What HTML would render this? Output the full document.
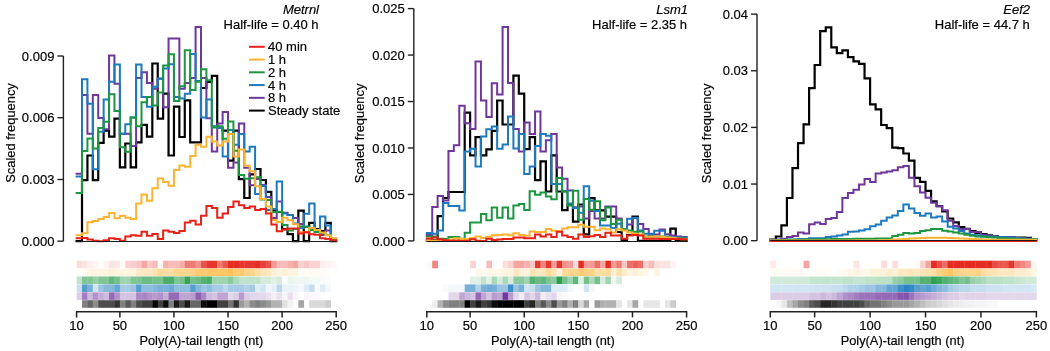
<!DOCTYPE html>
<html><head><meta charset="utf-8"><style>
html,body{margin:0;padding:0;background:#fff;width:1050px;height:351px;overflow:hidden}
svg{display:block;will-change:transform}
text{font-family:"Liberation Sans",sans-serif;fill:#000;stroke:#000;stroke-width:0.18px}
</style></head><body>
<svg width="1050" height="351" viewBox="0 0 1050 351">
<rect width="1050" height="351" fill="#fff"/>

<g><rect x="76.6" y="260.7" width="5.76" height="7.6" fill="#fbdedc"/><rect x="82.01" y="260.7" width="5.76" height="7.6" fill="#fce4e3"/><rect x="87.42" y="260.7" width="5.76" height="7.6" fill="#fdefef"/><rect x="92.82" y="260.7" width="5.76" height="7.6" fill="#fef6f6"/><rect x="98.23" y="260.7" width="5.76" height="7.6" fill="#fefbfa"/><rect x="103.64" y="260.7" width="5.76" height="7.6" fill="#fef4f3"/><rect x="109.05" y="260.7" width="5.76" height="7.6" fill="#fce4e3"/><rect x="114.46" y="260.7" width="5.76" height="7.6" fill="#fce9e8"/><rect x="119.87" y="260.7" width="5.76" height="7.6" fill="#fefbfa"/><rect x="125.28" y="260.7" width="5.76" height="7.6" fill="#fad2d0"/><rect x="130.68" y="260.7" width="5.76" height="7.6" fill="#f9cecc"/><rect x="136.09" y="260.7" width="5.76" height="7.6" fill="#f8c7c5"/><rect x="141.5" y="260.7" width="5.76" height="7.6" fill="#f4a6a2"/><rect x="146.91" y="260.7" width="5.76" height="7.6" fill="#f8c7c5"/><rect x="152.32" y="260.7" width="5.76" height="7.6" fill="#f7bcb9"/><rect x="157.73" y="260.7" width="5.76" height="7.6" fill="#fefbfa"/><rect x="163.13" y="260.7" width="5.76" height="7.6" fill="#f6b1ad"/><rect x="168.54" y="260.7" width="5.76" height="7.6" fill="#f7bcb9"/><rect x="173.95" y="260.7" width="5.76" height="7.6" fill="#f7bcb9"/><rect x="179.36" y="260.7" width="5.76" height="7.6" fill="#f6b1ad"/><rect x="184.77" y="260.7" width="5.76" height="7.6" fill="#ef7973"/><rect x="190.18" y="260.7" width="5.76" height="7.6" fill="#ef7973"/><rect x="195.58" y="260.7" width="5.76" height="7.6" fill="#f2908a"/><rect x="200.99" y="260.7" width="5.76" height="7.6" fill="#ea5149"/><rect x="206.4" y="260.7" width="5.76" height="7.6" fill="#e7362d"/><rect x="211.81" y="260.7" width="5.76" height="7.6" fill="#e7362d"/><rect x="217.22" y="260.7" width="5.76" height="7.6" fill="#ef7973"/><rect x="222.63" y="260.7" width="5.76" height="7.6" fill="#eb5850"/><rect x="228.03" y="260.7" width="5.76" height="7.6" fill="#e52b22"/><rect x="233.44" y="260.7" width="5.76" height="7.6" fill="#e52b22"/><rect x="238.85" y="260.7" width="5.76" height="7.6" fill="#e7362d"/><rect x="244.26" y="260.7" width="5.76" height="7.6" fill="#e7362d"/><rect x="249.67" y="260.7" width="5.76" height="7.6" fill="#e7362d"/><rect x="255.08" y="260.7" width="5.76" height="7.6" fill="#e52b22"/><rect x="260.48" y="260.7" width="5.76" height="7.6" fill="#e84139"/><rect x="265.89" y="260.7" width="5.76" height="7.6" fill="#ea5149"/><rect x="271.3" y="260.7" width="5.76" height="7.6" fill="#f39b96"/><rect x="276.71" y="260.7" width="5.76" height="7.6" fill="#f7bcb9"/><rect x="282.12" y="260.7" width="5.76" height="7.6" fill="#f7bcb9"/><rect x="287.53" y="260.7" width="5.76" height="7.6" fill="#f6b1ad"/><rect x="292.93" y="260.7" width="5.76" height="7.6" fill="#f4a6a2"/><rect x="298.34" y="260.7" width="5.76" height="7.6" fill="#fad2d0"/><rect x="303.75" y="260.7" width="5.76" height="7.6" fill="#f8c7c5"/><rect x="309.16" y="260.7" width="5.76" height="7.6" fill="#fad2d0"/><rect x="314.57" y="260.7" width="5.76" height="7.6" fill="#fad2d0"/><rect x="319.98" y="260.7" width="5.76" height="7.6" fill="#fdefef"/><rect x="325.38" y="260.7" width="5.76" height="7.6" fill="#fef4f3"/><rect x="330.79" y="260.7" width="5.76" height="7.6" fill="#fef8f8"/><rect x="76.6" y="268.6" width="5.76" height="7.6" fill="#fffdf9"/><rect x="82.01" y="268.6" width="5.76" height="7.6" fill="#fffbf5"/><rect x="87.42" y="268.6" width="5.76" height="7.6" fill="#fff4e0"/><rect x="92.82" y="268.6" width="5.76" height="7.6" fill="#fff4e0"/><rect x="98.23" y="268.6" width="5.76" height="7.6" fill="#fff4e0"/><rect x="103.64" y="268.6" width="5.76" height="7.6" fill="#fff4e0"/><rect x="109.05" y="268.6" width="5.76" height="7.6" fill="#fef0d6"/><rect x="114.46" y="268.6" width="5.76" height="7.6" fill="#fff4e0"/><rect x="119.87" y="268.6" width="5.76" height="7.6" fill="#fff4e0"/><rect x="125.28" y="268.6" width="5.76" height="7.6" fill="#fff4e0"/><rect x="130.68" y="268.6" width="5.76" height="7.6" fill="#fff4e0"/><rect x="136.09" y="268.6" width="5.76" height="7.6" fill="#fee8c2"/><rect x="141.5" y="268.6" width="5.76" height="7.6" fill="#fee8c2"/><rect x="146.91" y="268.6" width="5.76" height="7.6" fill="#fee8c2"/><rect x="152.32" y="268.6" width="5.76" height="7.6" fill="#fee1ad"/><rect x="157.73" y="268.6" width="5.76" height="7.6" fill="#feda98"/><rect x="163.13" y="268.6" width="5.76" height="7.6" fill="#fedda3"/><rect x="168.54" y="268.6" width="5.76" height="7.6" fill="#fedda3"/><rect x="173.95" y="268.6" width="5.76" height="7.6" fill="#fdd68e"/><rect x="179.36" y="268.6" width="5.76" height="7.6" fill="#fdd68e"/><rect x="184.77" y="268.6" width="5.76" height="7.6" fill="#fdd68e"/><rect x="190.18" y="268.6" width="5.76" height="7.6" fill="#fdd284"/><rect x="195.58" y="268.6" width="5.76" height="7.6" fill="#fdca70"/><rect x="200.99" y="268.6" width="5.76" height="7.6" fill="#fdca70"/><rect x="206.4" y="268.6" width="5.76" height="7.6" fill="#fdc765"/><rect x="211.81" y="268.6" width="5.76" height="7.6" fill="#fdc765"/><rect x="217.22" y="268.6" width="5.76" height="7.6" fill="#fdc765"/><rect x="222.63" y="268.6" width="5.76" height="7.6" fill="#fdc765"/><rect x="228.03" y="268.6" width="5.76" height="7.6" fill="#fdc35b"/><rect x="233.44" y="268.6" width="5.76" height="7.6" fill="#fdca70"/><rect x="238.85" y="268.6" width="5.76" height="7.6" fill="#fdca70"/><rect x="244.26" y="268.6" width="5.76" height="7.6" fill="#fdd284"/><rect x="249.67" y="268.6" width="5.76" height="7.6" fill="#fdd68e"/><rect x="255.08" y="268.6" width="5.76" height="7.6" fill="#fedda3"/><rect x="260.48" y="268.6" width="5.76" height="7.6" fill="#fee5b7"/><rect x="265.89" y="268.6" width="5.76" height="7.6" fill="#fee8c2"/><rect x="271.3" y="268.6" width="5.76" height="7.6" fill="#fef0d6"/><rect x="276.71" y="268.6" width="5.76" height="7.6" fill="#fff4e0"/><rect x="282.12" y="268.6" width="5.76" height="7.6" fill="#fef0d6"/><rect x="287.53" y="268.6" width="5.76" height="7.6" fill="#fff4e0"/><rect x="292.93" y="268.6" width="5.76" height="7.6" fill="#fff4e0"/><rect x="298.34" y="268.6" width="5.76" height="7.6" fill="#fffbf5"/><rect x="303.75" y="268.6" width="5.76" height="7.6" fill="#fffbf5"/><rect x="309.16" y="268.6" width="5.76" height="7.6" fill="#fff9ef"/><rect x="314.57" y="268.6" width="5.76" height="7.6" fill="#fffaf3"/><rect x="319.98" y="268.6" width="5.76" height="7.6" fill="#fffcf7"/><rect x="325.38" y="268.6" width="5.76" height="7.6" fill="#fffdf9"/><rect x="330.79" y="268.6" width="5.76" height="7.6" fill="#fffefd"/><rect x="76.6" y="276.5" width="5.76" height="7.6" fill="#c0e2cb"/><rect x="82.01" y="276.5" width="5.76" height="7.6" fill="#80c596"/><rect x="87.42" y="276.5" width="5.76" height="7.6" fill="#80c596"/><rect x="92.82" y="276.5" width="5.76" height="7.6" fill="#95cfa8"/><rect x="98.23" y="276.5" width="5.76" height="7.6" fill="#80c596"/><rect x="103.64" y="276.5" width="5.76" height="7.6" fill="#80c596"/><rect x="109.05" y="276.5" width="5.76" height="7.6" fill="#60b77c"/><rect x="114.46" y="276.5" width="5.76" height="7.6" fill="#75c08d"/><rect x="119.87" y="276.5" width="5.76" height="7.6" fill="#a0d4b0"/><rect x="125.28" y="276.5" width="5.76" height="7.6" fill="#a0d4b0"/><rect x="130.68" y="276.5" width="5.76" height="7.6" fill="#80c596"/><rect x="136.09" y="276.5" width="5.76" height="7.6" fill="#80c596"/><rect x="141.5" y="276.5" width="5.76" height="7.6" fill="#6bbb85"/><rect x="146.91" y="276.5" width="5.76" height="7.6" fill="#6bbb85"/><rect x="152.32" y="276.5" width="5.76" height="7.6" fill="#75c08d"/><rect x="157.73" y="276.5" width="5.76" height="7.6" fill="#75c08d"/><rect x="163.13" y="276.5" width="5.76" height="7.6" fill="#4bad6a"/><rect x="168.54" y="276.5" width="5.76" height="7.6" fill="#4bad6a"/><rect x="173.95" y="276.5" width="5.76" height="7.6" fill="#80c596"/><rect x="179.36" y="276.5" width="5.76" height="7.6" fill="#75c08d"/><rect x="184.77" y="276.5" width="5.76" height="7.6" fill="#36a359"/><rect x="190.18" y="276.5" width="5.76" height="7.6" fill="#75c08d"/><rect x="195.58" y="276.5" width="5.76" height="7.6" fill="#6bbb85"/><rect x="200.99" y="276.5" width="5.76" height="7.6" fill="#56b273"/><rect x="206.4" y="276.5" width="5.76" height="7.6" fill="#4bad6a"/><rect x="211.81" y="276.5" width="5.76" height="7.6" fill="#a0d4b0"/><rect x="217.22" y="276.5" width="5.76" height="7.6" fill="#a0d4b0"/><rect x="222.63" y="276.5" width="5.76" height="7.6" fill="#a0d4b0"/><rect x="228.03" y="276.5" width="5.76" height="7.6" fill="#8bca9f"/><rect x="233.44" y="276.5" width="5.76" height="7.6" fill="#aad8b9"/><rect x="238.85" y="276.5" width="5.76" height="7.6" fill="#c0e2cb"/><rect x="244.26" y="276.5" width="5.76" height="7.6" fill="#c0e2cb"/><rect x="249.67" y="276.5" width="5.76" height="7.6" fill="#c0e2cb"/><rect x="255.08" y="276.5" width="5.76" height="7.6" fill="#c0e2cb"/><rect x="260.48" y="276.5" width="5.76" height="7.6" fill="#d5ecdc"/><rect x="265.89" y="276.5" width="5.76" height="7.6" fill="#d5ecdc"/><rect x="271.3" y="276.5" width="5.76" height="7.6" fill="#dff1e5"/><rect x="276.71" y="276.5" width="5.76" height="7.6" fill="#d5ecdc"/><rect x="282.12" y="276.5" width="5.76" height="7.6" fill="#fbfdfc"/><rect x="287.53" y="276.5" width="5.76" height="7.6" fill="#eaf5ee"/><rect x="292.93" y="276.5" width="5.76" height="7.6" fill="#eef7f1"/><rect x="298.34" y="276.5" width="5.76" height="7.6" fill="#eef7f1"/><rect x="303.75" y="276.5" width="5.76" height="7.6" fill="#eef7f1"/><rect x="309.16" y="276.5" width="5.76" height="7.6" fill="#f4faf6"/><rect x="314.57" y="276.5" width="5.76" height="7.6" fill="#f4faf6"/><rect x="319.98" y="276.5" width="5.76" height="7.6" fill="#f9fcfa"/><rect x="325.38" y="276.5" width="5.76" height="7.6" fill="#fbfdfc"/><rect x="76.6" y="284.4" width="5.76" height="7.6" fill="#c7deef"/><rect x="82.01" y="284.4" width="5.76" height="7.6" fill="#569ece"/><rect x="87.42" y="284.4" width="5.76" height="7.6" fill="#78b1d8"/><rect x="92.82" y="284.4" width="5.76" height="7.6" fill="#d2e5f2"/><rect x="98.23" y="284.4" width="5.76" height="7.6" fill="#9ac4e2"/><rect x="103.64" y="284.4" width="5.76" height="7.6" fill="#83b8db"/><rect x="109.05" y="284.4" width="5.76" height="7.6" fill="#83b8db"/><rect x="114.46" y="284.4" width="5.76" height="7.6" fill="#62a4d2"/><rect x="119.87" y="284.4" width="5.76" height="7.6" fill="#a5cbe5"/><rect x="125.28" y="284.4" width="5.76" height="7.6" fill="#a5cbe5"/><rect x="130.68" y="284.4" width="5.76" height="7.6" fill="#9ac4e2"/><rect x="136.09" y="284.4" width="5.76" height="7.6" fill="#569ece"/><rect x="141.5" y="284.4" width="5.76" height="7.6" fill="#8ebede"/><rect x="146.91" y="284.4" width="5.76" height="7.6" fill="#8ebede"/><rect x="152.32" y="284.4" width="5.76" height="7.6" fill="#83b8db"/><rect x="157.73" y="284.4" width="5.76" height="7.6" fill="#78b1d8"/><rect x="163.13" y="284.4" width="5.76" height="7.6" fill="#78b1d8"/><rect x="168.54" y="284.4" width="5.76" height="7.6" fill="#6daad5"/><rect x="173.95" y="284.4" width="5.76" height="7.6" fill="#8ebede"/><rect x="179.36" y="284.4" width="5.76" height="7.6" fill="#8ebede"/><rect x="184.77" y="284.4" width="5.76" height="7.6" fill="#8ebede"/><rect x="190.18" y="284.4" width="5.76" height="7.6" fill="#569ece"/><rect x="195.58" y="284.4" width="5.76" height="7.6" fill="#83b8db"/><rect x="200.99" y="284.4" width="5.76" height="7.6" fill="#9ac4e2"/><rect x="206.4" y="284.4" width="5.76" height="7.6" fill="#8ebede"/><rect x="211.81" y="284.4" width="5.76" height="7.6" fill="#a5cbe5"/><rect x="217.22" y="284.4" width="5.76" height="7.6" fill="#a5cbe5"/><rect x="222.63" y="284.4" width="5.76" height="7.6" fill="#bcd8ec"/><rect x="228.03" y="284.4" width="5.76" height="7.6" fill="#a5cbe5"/><rect x="233.44" y="284.4" width="5.76" height="7.6" fill="#a5cbe5"/><rect x="238.85" y="284.4" width="5.76" height="7.6" fill="#a5cbe5"/><rect x="244.26" y="284.4" width="5.76" height="7.6" fill="#b0d2e8"/><rect x="249.67" y="284.4" width="5.76" height="7.6" fill="#a5cbe5"/><rect x="255.08" y="284.4" width="5.76" height="7.6" fill="#ddecf5"/><rect x="260.48" y="284.4" width="5.76" height="7.6" fill="#d2e5f2"/><rect x="265.89" y="284.4" width="5.76" height="7.6" fill="#edf5fa"/><rect x="271.3" y="284.4" width="5.76" height="7.6" fill="#e4eff7"/><rect x="276.71" y="284.4" width="5.76" height="7.6" fill="#bcd8ec"/><rect x="282.12" y="284.4" width="5.76" height="7.6" fill="#e8f2f8"/><rect x="287.53" y="284.4" width="5.76" height="7.6" fill="#e8f2f8"/><rect x="292.93" y="284.4" width="5.76" height="7.6" fill="#edf5fa"/><rect x="298.34" y="284.4" width="5.76" height="7.6" fill="#f4f8fc"/><rect x="303.75" y="284.4" width="5.76" height="7.6" fill="#ddecf5"/><rect x="309.16" y="284.4" width="5.76" height="7.6" fill="#c7deef"/><rect x="314.57" y="284.4" width="5.76" height="7.6" fill="#f8fbfd"/><rect x="319.98" y="284.4" width="5.76" height="7.6" fill="#ddecf5"/><rect x="325.38" y="284.4" width="5.76" height="7.6" fill="#f4f8fc"/><rect x="76.6" y="292.3" width="5.76" height="7.6" fill="#dbcde6"/><rect x="82.01" y="292.3" width="5.76" height="7.6" fill="#a27dbf"/><rect x="87.42" y="292.3" width="5.76" height="7.6" fill="#cdb9dc"/><rect x="92.82" y="292.3" width="5.76" height="7.6" fill="#b091c9"/><rect x="98.23" y="292.3" width="5.76" height="7.6" fill="#c6afd7"/><rect x="103.64" y="292.3" width="5.76" height="7.6" fill="#cdb9dc"/><rect x="109.05" y="292.3" width="5.76" height="7.6" fill="#9469b5"/><rect x="114.46" y="292.3" width="5.76" height="7.6" fill="#b091c9"/><rect x="119.87" y="292.3" width="5.76" height="7.6" fill="#d4c3e1"/><rect x="125.28" y="292.3" width="5.76" height="7.6" fill="#d4c3e1"/><rect x="130.68" y="292.3" width="5.76" height="7.6" fill="#d4c3e1"/><rect x="136.09" y="292.3" width="5.76" height="7.6" fill="#a987c4"/><rect x="141.5" y="292.3" width="5.76" height="7.6" fill="#a987c4"/><rect x="146.91" y="292.3" width="5.76" height="7.6" fill="#b091c9"/><rect x="152.32" y="292.3" width="5.76" height="7.6" fill="#b89bce"/><rect x="157.73" y="292.3" width="5.76" height="7.6" fill="#b091c9"/><rect x="163.13" y="292.3" width="5.76" height="7.6" fill="#c6afd7"/><rect x="168.54" y="292.3" width="5.76" height="7.6" fill="#9469b5"/><rect x="173.95" y="292.3" width="5.76" height="7.6" fill="#9469b5"/><rect x="179.36" y="292.3" width="5.76" height="7.6" fill="#bfa5d2"/><rect x="184.77" y="292.3" width="5.76" height="7.6" fill="#bfa5d2"/><rect x="190.18" y="292.3" width="5.76" height="7.6" fill="#b89bce"/><rect x="195.58" y="292.3" width="5.76" height="7.6" fill="#8d5fb0"/><rect x="200.99" y="292.3" width="5.76" height="7.6" fill="#a987c4"/><rect x="206.4" y="292.3" width="5.76" height="7.6" fill="#cdb9dc"/><rect x="211.81" y="292.3" width="5.76" height="7.6" fill="#d4c3e1"/><rect x="217.22" y="292.3" width="5.76" height="7.6" fill="#bfa5d2"/><rect x="222.63" y="292.3" width="5.76" height="7.6" fill="#bfa5d2"/><rect x="228.03" y="292.3" width="5.76" height="7.6" fill="#e2d7eb"/><rect x="233.44" y="292.3" width="5.76" height="7.6" fill="#dbcde6"/><rect x="238.85" y="292.3" width="5.76" height="7.6" fill="#b89bce"/><rect x="244.26" y="292.3" width="5.76" height="7.6" fill="#dbcde6"/><rect x="249.67" y="292.3" width="5.76" height="7.6" fill="#e2d7eb"/><rect x="255.08" y="292.3" width="5.76" height="7.6" fill="#e2d7eb"/><rect x="260.48" y="292.3" width="5.76" height="7.6" fill="#e2d7eb"/><rect x="265.89" y="292.3" width="5.76" height="7.6" fill="#eae1f0"/><rect x="271.3" y="292.3" width="5.76" height="7.6" fill="#f4eff7"/><rect x="276.71" y="292.3" width="5.76" height="7.6" fill="#eae1f0"/><rect x="282.12" y="292.3" width="5.76" height="7.6" fill="#f8f5fa"/><rect x="287.53" y="292.3" width="5.76" height="7.6" fill="#eae1f0"/><rect x="292.93" y="292.3" width="5.76" height="7.6" fill="#f8f5fa"/><rect x="303.75" y="292.3" width="5.76" height="7.6" fill="#f8f5fa"/><rect x="309.16" y="292.3" width="5.76" height="7.6" fill="#fbf9fc"/><rect x="314.57" y="292.3" width="5.76" height="7.6" fill="#fbf9fc"/><rect x="82.01" y="300.2" width="5.76" height="7.6" fill="#808080"/><rect x="87.42" y="300.2" width="5.76" height="7.6" fill="#666666"/><rect x="92.82" y="300.2" width="5.76" height="7.6" fill="#8c8c8c"/><rect x="98.23" y="300.2" width="5.76" height="7.6" fill="#4c4c4c"/><rect x="103.64" y="300.2" width="5.76" height="7.6" fill="#4c4c4c"/><rect x="109.05" y="300.2" width="5.76" height="7.6" fill="#4c4c4c"/><rect x="114.46" y="300.2" width="5.76" height="7.6" fill="#333333"/><rect x="119.87" y="300.2" width="5.76" height="7.6" fill="#808080"/><rect x="125.28" y="300.2" width="5.76" height="7.6" fill="#595959"/><rect x="130.68" y="300.2" width="5.76" height="7.6" fill="#808080"/><rect x="136.09" y="300.2" width="5.76" height="7.6" fill="#4c4c4c"/><rect x="141.5" y="300.2" width="5.76" height="7.6" fill="#404040"/><rect x="146.91" y="300.2" width="5.76" height="7.6" fill="#404040"/><rect x="152.32" y="300.2" width="5.76" height="7.6" fill="#000000"/><rect x="157.73" y="300.2" width="5.76" height="7.6" fill="#404040"/><rect x="163.13" y="300.2" width="5.76" height="7.6" fill="#0d0d0d"/><rect x="168.54" y="300.2" width="5.76" height="7.6" fill="#808080"/><rect x="173.95" y="300.2" width="5.76" height="7.6" fill="#1a1a1a"/><rect x="179.36" y="300.2" width="5.76" height="7.6" fill="#4c4c4c"/><rect x="184.77" y="300.2" width="5.76" height="7.6" fill="#1a1a1a"/><rect x="190.18" y="300.2" width="5.76" height="7.6" fill="#666666"/><rect x="195.58" y="300.2" width="5.76" height="7.6" fill="#666666"/><rect x="200.99" y="300.2" width="5.76" height="7.6" fill="#0d0d0d"/><rect x="206.4" y="300.2" width="5.76" height="7.6" fill="#000000"/><rect x="211.81" y="300.2" width="5.76" height="7.6" fill="#000000"/><rect x="217.22" y="300.2" width="5.76" height="7.6" fill="#404040"/><rect x="222.63" y="300.2" width="5.76" height="7.6" fill="#404040"/><rect x="228.03" y="300.2" width="5.76" height="7.6" fill="#737373"/><rect x="233.44" y="300.2" width="5.76" height="7.6" fill="#333333"/><rect x="238.85" y="300.2" width="5.76" height="7.6" fill="#999999"/><rect x="244.26" y="300.2" width="5.76" height="7.6" fill="#b2b2b2"/><rect x="249.67" y="300.2" width="5.76" height="7.6" fill="#8c8c8c"/><rect x="255.08" y="300.2" width="5.76" height="7.6" fill="#808080"/><rect x="260.48" y="300.2" width="5.76" height="7.6" fill="#8c8c8c"/><rect x="265.89" y="300.2" width="5.76" height="7.6" fill="#999999"/><rect x="271.3" y="300.2" width="5.76" height="7.6" fill="#b2b2b2"/><rect x="276.71" y="300.2" width="5.76" height="7.6" fill="#b2b2b2"/><rect x="282.12" y="300.2" width="5.76" height="7.6" fill="#e0e0e0"/><rect x="287.53" y="300.2" width="5.76" height="7.6" fill="#f2f2f2"/><rect x="298.34" y="300.2" width="5.76" height="7.6" fill="#a6a6a6"/><rect x="309.16" y="300.2" width="5.76" height="7.6" fill="#d9d9d9"/><rect x="314.57" y="300.2" width="5.76" height="7.6" fill="#d9d9d9"/><rect x="319.98" y="300.2" width="5.76" height="7.6" fill="#d9d9d9"/><rect x="325.38" y="300.2" width="5.76" height="7.6" fill="#cccccc"/></g>
<polyline fill="none" stroke="#000000" stroke-width="2.2" stroke-linejoin="miter" stroke-linecap="square" points="76.6,241.2 82.01,241.2 82.01,180.2 87.42,180.2 87.42,155.5 92.82,155.5 92.82,180.2 98.23,180.2 98.23,142.9 103.64,142.9 103.64,130.6 109.05,130.6 109.05,136.7 114.46,136.7 114.46,118.6 119.87,118.6 119.87,167.4 125.28,167.4 125.28,143.5 130.68,143.5 130.68,167.4 136.09,167.4 136.09,142.3 141.5,142.3 141.5,124.9 146.91,124.9 146.91,136.7 152.32,136.7 152.32,63.5 157.73,63.5 157.73,118.6 163.13,118.6 163.13,93.7 168.54,93.7 168.54,155.5 173.95,155.5 173.95,106.7 179.36,106.7 179.36,137 184.77,137 184.77,100.4 190.18,100.4 190.18,142.3 195.58,142.3 195.58,142.3 200.99,142.3 200.99,88 206.4,88 206.4,82 211.81,82 211.81,75.9 217.22,75.9 217.22,128 222.63,128 222.63,130.7 228.03,130.7 228.03,160.6 233.44,160.6 233.44,130.7 238.85,130.7 238.85,179.1 244.26,179.1 244.26,198 249.67,198 249.67,174.4 255.08,174.4 255.08,169 260.48,169 260.48,180 265.89,180 265.89,191.8 271.3,191.8 271.3,210.7 276.71,210.7 276.71,212 282.12,212 282.12,229.2 287.53,229.2 287.53,234.2 292.93,234.2 292.93,241.2 298.34,241.2 298.34,210.7 303.75,210.7 303.75,241.2 309.16,241.2 309.16,222.8 314.57,222.8 314.57,229.2 319.98,229.2 319.98,231 325.38,231 325.38,222.8 330.79,222.8 330.79,241.2 336.2,241.2"/>
<polyline fill="none" stroke="#70379b" stroke-width="2.0" stroke-linejoin="miter" stroke-linecap="square" points="76.6,173.7 82.01,173.7 82.01,95 87.42,95 87.42,133.7 92.82,133.7 92.82,95 98.23,95 98.23,118 103.64,118 103.64,129.3 109.05,129.3 109.05,55.6 114.46,55.6 114.46,83.7 119.87,83.7 119.87,133.7 125.28,133.7 125.28,133.7 130.68,133.7 130.68,146 136.09,146 136.09,78 141.5,78 141.5,72.3 146.91,72.3 146.91,83 152.32,83 152.32,88.7 157.73,88.7 157.73,78.8 163.13,78.8 163.13,107.3 168.54,107.3 168.54,38.6 173.95,38.6 173.95,38.6 179.36,38.6 179.36,88.7 184.77,88.7 184.77,83 190.18,83 190.18,78 195.58,78 195.58,26.9 200.99,26.9 200.99,78 206.4,78 206.4,118.2 211.81,118.2 211.81,151.5 217.22,151.5 217.22,123.4 222.63,123.4 222.63,112.1 228.03,112.1 228.03,167.7 233.44,167.7 233.44,162.4 238.85,162.4 238.85,123.4 244.26,123.4 244.26,167.7 249.67,167.7 249.67,185.3 255.08,185.3 255.08,179.1 260.48,179.1 260.48,185 265.89,185 265.89,197 271.3,197 271.3,218 276.71,218 276.71,201.4 282.12,201.4 282.12,212.8 287.53,212.8 287.53,215 292.93,215 292.93,218 298.34,218 298.34,224 303.75,224 303.75,227 309.16,227 309.16,228 314.57,228 314.57,230 319.98,230 319.98,235 325.38,235 325.38,230.6 330.79,230.6 330.79,240.6 336.2,240.6"/>
<polyline fill="none" stroke="#1e7abe" stroke-width="2.0" stroke-linejoin="miter" stroke-linecap="square" points="76.6,176.5 82.01,176.5 82.01,79.3 87.42,79.3 87.42,103.8 92.82,103.8 92.82,169.3 98.23,169.3 98.23,131.8 103.64,131.8 103.64,99.4 109.05,99.4 109.05,81.8 114.46,81.8 114.46,64.5 119.87,64.5 119.87,133.7 125.28,133.7 125.28,124.3 130.68,124.3 130.68,117.4 136.09,117.4 136.09,64.5 141.5,64.5 141.5,96.9 146.91,96.9 146.91,106.7 152.32,106.7 152.32,86.8 157.73,86.8 157.73,78.6 163.13,78.6 163.13,68.6 168.54,68.6 168.54,64.2 173.95,64.2 173.95,96.9 179.36,96.9 179.36,98.5 184.77,98.5 184.77,93.7 190.18,93.7 190.18,53.9 195.58,53.9 195.58,81 200.99,81 200.99,117.4 206.4,117.4 206.4,99.4 211.81,99.4 211.81,126.2 217.22,126.2 217.22,128 222.63,128 222.63,156.6 228.03,156.6 228.03,130 233.44,130 233.44,144.8 238.85,144.8 238.85,134.1 244.26,134.1 244.26,151.5 249.67,151.5 249.67,146.8 255.08,146.8 255.08,194.1 260.48,194.1 260.48,186 265.89,186 265.89,210 271.3,210 271.3,209 276.71,209 276.71,181.5 282.12,181.5 282.12,213.6 287.53,213.6 287.53,215 292.93,215 292.93,223.5 298.34,223.5 298.34,228 303.75,228 303.75,213.7 309.16,213.7 309.16,203.6 314.57,203.6 314.57,230.6 319.98,230.6 319.98,216.4 325.38,216.4 325.38,225.5 330.79,225.5 330.79,240.5 336.2,240.5"/>
<polyline fill="none" stroke="#1d9641" stroke-width="2.0" stroke-linejoin="miter" stroke-linecap="square" points="76.6,193.1 82.01,193.1 82.01,151.1 87.42,151.1 87.42,138.6 92.82,138.6 92.82,148.6 98.23,148.6 98.23,128 103.64,128 103.64,121.8 109.05,121.8 109.05,94.3 114.46,94.3 114.46,111.1 119.87,111.1 119.87,147.3 125.28,147.3 125.28,151.7 130.68,151.7 130.68,117.4 136.09,117.4 136.09,126.2 141.5,126.2 141.5,102.3 146.91,102.3 146.91,97.1 152.32,97.1 152.32,105.4 157.73,105.4 157.73,92.5 163.13,92.5 163.13,65.4 168.54,65.4 168.54,54.3 173.95,54.3 173.95,101 179.36,101 179.36,86.2 184.77,86.2 184.77,50.2 190.18,50.2 190.18,90 195.58,90 195.58,81.8 200.99,81.8 200.99,69.2 206.4,69.2 206.4,80.2 211.81,80.2 211.81,127.4 217.22,127.4 217.22,126.2 222.63,126.2 222.63,138.7 228.03,138.7 228.03,121.4 233.44,121.4 233.44,150.8 238.85,150.8 238.85,175.1 244.26,175.1 244.26,178.8 249.67,178.8 249.67,178.3 255.08,178.3 255.08,177.3 260.48,177.3 260.48,199.5 265.89,199.5 265.89,200 271.3,200 271.3,212 276.71,212 276.71,211.7 282.12,211.7 282.12,225 287.53,225 287.53,230.6 292.93,230.6 292.93,229 298.34,229 298.34,226.4 303.75,226.4 303.75,226.4 309.16,226.4 309.16,230 314.57,230 314.57,232 319.98,232 319.98,233.5 325.38,233.5 325.38,234.9 330.79,234.9 330.79,238.5 336.2,238.5"/>
<polyline fill="none" stroke="#fbb432" stroke-width="2.0" stroke-linejoin="miter" stroke-linecap="square" points="76.6,235.2 82.01,235.2 82.01,233.3 87.42,233.3 87.42,222.3 92.82,222.3 92.82,221.1 98.23,221.1 98.23,219.1 103.64,219.1 103.64,216.9 109.05,216.9 109.05,213.1 114.46,213.1 114.46,218.2 119.87,218.2 119.87,215.8 125.28,215.8 125.28,217.8 130.68,217.8 130.68,219.1 136.09,219.1 136.09,203.4 141.5,203.4 141.5,194.6 146.91,194.6 146.91,200.7 152.32,200.7 152.32,188.3 157.73,188.3 157.73,178.5 163.13,178.5 163.13,182.1 168.54,182.1 168.54,185.8 173.95,185.8 173.95,170 179.36,170 179.36,165.5 184.77,165.5 184.77,166.8 190.18,166.8 190.18,156.1 195.58,156.1 195.58,144.8 200.99,144.8 200.99,146.7 206.4,146.7 206.4,136.7 211.81,136.7 211.81,141.4 217.22,141.4 217.22,145.4 222.63,145.4 222.63,141.4 228.03,141.4 228.03,134.1 233.44,134.1 233.44,156.6 238.85,156.6 238.85,149.5 244.26,149.5 244.26,165.7 249.67,165.7 249.67,171.3 255.08,171.3 255.08,186.2 260.48,186.2 260.48,199 265.89,199 265.89,206.5 271.3,206.5 271.3,220 276.71,220 276.71,222 282.12,222 282.12,217.8 287.53,217.8 287.53,220.2 292.93,220.2 292.93,224.2 298.34,224.2 298.34,232 303.75,232 303.75,232.2 309.16,232.2 309.16,228 314.57,228 314.57,230 319.98,230 319.98,232.6 325.38,232.6 325.38,235.3 330.79,235.3 330.79,238.2 336.2,238.2"/>
<polyline fill="none" stroke="#e82119" stroke-width="2.0" stroke-linejoin="miter" stroke-linecap="square" points="76.6,238.3 82.01,238.3 82.01,237.9 87.42,237.9 87.42,239.6 92.82,239.6 92.82,240.8 98.23,240.8 98.23,241.2 103.64,241.2 103.64,240.2 109.05,240.2 109.05,238.3 114.46,238.3 114.46,238.9 119.87,238.9 119.87,240.8 125.28,240.8 125.28,236.4 130.68,236.4 130.68,235.2 136.09,235.2 136.09,235.8 141.5,235.8 141.5,231.7 146.91,231.7 146.91,235.8 152.32,235.8 152.32,233.9 157.73,233.9 157.73,238.9 163.13,238.9 163.13,230.4 168.54,230.4 168.54,231.7 173.95,231.7 173.95,232.9 179.36,232.9 179.36,231.1 184.77,231.1 184.77,222.6 190.18,222.6 190.18,220.7 195.58,220.7 195.58,224.5 200.99,224.5 200.99,215.7 206.4,215.7 206.4,205.9 211.81,205.9 211.81,208 217.22,208 217.22,217.8 222.63,217.8 222.63,213.4 228.03,213.4 228.03,207 233.44,207 233.44,201.5 238.85,201.5 238.85,205.3 244.26,205.3 244.26,208.1 249.67,208.1 249.67,206.6 255.08,206.6 255.08,210 260.48,210 260.48,209 265.89,209 265.89,213.5 271.3,213.5 271.3,224.5 276.71,224.5 276.71,231.3 282.12,231.3 282.12,229.6 287.53,229.6 287.53,228.4 292.93,228.4 292.93,228.5 298.34,228.5 298.34,233.4 303.75,233.4 303.75,232.3 309.16,232.3 309.16,234.3 314.57,234.3 314.57,234.8 319.98,234.8 319.98,238.3 325.38,238.3 325.38,239 330.79,239 330.79,240.2 336.2,240.2"/>
<line x1="76.6" y1="241.5" x2="336.2" y2="241.5" stroke="#1a1a1a" stroke-width="1"/>
<path d="M63.4 56 V241.2" stroke="#222" stroke-width="1.4" fill="none"/>
<path d="M57.4 56 H63.4" stroke="#222" stroke-width="1.4"/>
<text x="54.4" y="60.6" font-size="13" text-anchor="end">0.009</text>
<path d="M57.4 117.7 H63.4" stroke="#222" stroke-width="1.4"/>
<text x="54.4" y="122.3" font-size="13" text-anchor="end">0.006</text>
<path d="M57.4 179.5 H63.4" stroke="#222" stroke-width="1.4"/>
<text x="54.4" y="184.1" font-size="13" text-anchor="end">0.003</text>
<path d="M57.4 241.2 H63.4" stroke="#222" stroke-width="1.4"/>
<text x="54.4" y="245.8" font-size="13" text-anchor="end">0.000</text>
<text transform="translate(14.9 133) rotate(-90)" font-size="12.9" text-anchor="middle">Scaled frequency</text>
<path d="M76.6 317.4 V311.8 H336.2 V317.4" stroke="#222" stroke-width="1.5" fill="none"/>
<path d="M119.87 311.8 V317.4" stroke="#222" stroke-width="1.5"/>
<path d="M173.95 311.8 V317.4" stroke="#222" stroke-width="1.5"/>
<path d="M228.03 311.8 V317.4" stroke="#222" stroke-width="1.5"/>
<path d="M282.12 311.8 V317.4" stroke="#222" stroke-width="1.5"/>
<text x="76.6" y="330" font-size="13" text-anchor="middle">10</text>
<text x="119.87" y="330" font-size="13" text-anchor="middle">50</text>
<text x="173.95" y="330" font-size="13" text-anchor="middle">100</text>
<text x="228.03" y="330" font-size="13" text-anchor="middle">150</text>
<text x="282.12" y="330" font-size="13" text-anchor="middle">200</text>
<text x="336.2" y="330" font-size="13" text-anchor="middle">250</text>
<text x="201.3" y="344.8" font-size="12.8" text-anchor="middle">Poly(A)-tail length (nt)</text>
<text x="319" y="13.6" font-size="13" font-style="italic" text-anchor="end">Metrnl</text>
<text x="318.6" y="28.7" font-size="13" text-anchor="end">Half-life = 0.40 h</text>
<g><rect x="426.8" y="260.7" width="5.76" height="7.6" fill="#fef8f8"/><rect x="432.21" y="260.7" width="5.76" height="7.6" fill="#f0847f"/><rect x="470.1" y="260.7" width="5.76" height="7.6" fill="#fad2d0"/><rect x="486.34" y="260.7" width="5.76" height="7.6" fill="#f7bcb9"/><rect x="502.58" y="260.7" width="5.76" height="7.6" fill="#fbdedc"/><rect x="507.99" y="260.7" width="5.76" height="7.6" fill="#fad2d0"/><rect x="513.4" y="260.7" width="5.76" height="7.6" fill="#f4a6a2"/><rect x="518.81" y="260.7" width="5.76" height="7.6" fill="#f4a6a2"/><rect x="524.23" y="260.7" width="5.76" height="7.6" fill="#f6b1ad"/><rect x="529.64" y="260.7" width="5.76" height="7.6" fill="#f8c7c5"/><rect x="535.05" y="260.7" width="5.76" height="7.6" fill="#e7362d"/><rect x="540.46" y="260.7" width="5.76" height="7.6" fill="#f0847f"/><rect x="545.88" y="260.7" width="5.76" height="7.6" fill="#e7362d"/><rect x="551.29" y="260.7" width="5.76" height="7.6" fill="#f39b96"/><rect x="556.7" y="260.7" width="5.76" height="7.6" fill="#e7362d"/><rect x="562.11" y="260.7" width="5.76" height="7.6" fill="#f2908a"/><rect x="567.53" y="260.7" width="5.76" height="7.6" fill="#f39b96"/><rect x="572.94" y="260.7" width="5.76" height="7.6" fill="#fbdedc"/><rect x="578.35" y="260.7" width="5.76" height="7.6" fill="#e52b22"/><rect x="583.76" y="260.7" width="5.76" height="7.6" fill="#f39b96"/><rect x="589.18" y="260.7" width="5.76" height="7.6" fill="#f39b96"/><rect x="594.59" y="260.7" width="5.76" height="7.6" fill="#ed6e68"/><rect x="600" y="260.7" width="5.76" height="7.6" fill="#f4a6a2"/><rect x="605.41" y="260.7" width="5.76" height="7.6" fill="#e52b22"/><rect x="610.83" y="260.7" width="5.76" height="7.6" fill="#f39b96"/><rect x="616.24" y="260.7" width="5.76" height="7.6" fill="#ef7973"/><rect x="621.65" y="260.7" width="5.76" height="7.6" fill="#f8c7c5"/><rect x="627.06" y="260.7" width="5.76" height="7.6" fill="#ed6e68"/><rect x="632.48" y="260.7" width="5.76" height="7.6" fill="#ec635c"/><rect x="637.89" y="260.7" width="5.76" height="7.6" fill="#ed6e68"/><rect x="643.3" y="260.7" width="5.76" height="7.6" fill="#fad2d0"/><rect x="648.71" y="260.7" width="5.76" height="7.6" fill="#f7bcb9"/><rect x="654.12" y="260.7" width="5.76" height="7.6" fill="#fbdedc"/><rect x="659.54" y="260.7" width="5.76" height="7.6" fill="#fce4e3"/><rect x="664.95" y="260.7" width="5.76" height="7.6" fill="#fce4e3"/><rect x="670.36" y="260.7" width="5.76" height="7.6" fill="#fef4f3"/><rect x="475.51" y="268.6" width="5.76" height="7.6" fill="#fff8ea"/><rect x="480.93" y="268.6" width="5.76" height="7.6" fill="#fffaf1"/><rect x="486.34" y="268.6" width="5.76" height="7.6" fill="#fff8ea"/><rect x="491.75" y="268.6" width="5.76" height="7.6" fill="#fff8ea"/><rect x="497.16" y="268.6" width="5.76" height="7.6" fill="#fff8ea"/><rect x="502.58" y="268.6" width="5.76" height="7.6" fill="#fff4e0"/><rect x="507.99" y="268.6" width="5.76" height="7.6" fill="#fff4e0"/><rect x="513.4" y="268.6" width="5.76" height="7.6" fill="#fee8c2"/><rect x="518.81" y="268.6" width="5.76" height="7.6" fill="#fef0d6"/><rect x="524.23" y="268.6" width="5.76" height="7.6" fill="#fff4e0"/><rect x="529.64" y="268.6" width="5.76" height="7.6" fill="#fee5b7"/><rect x="535.05" y="268.6" width="5.76" height="7.6" fill="#fee8c2"/><rect x="540.46" y="268.6" width="5.76" height="7.6" fill="#fee8c2"/><rect x="545.88" y="268.6" width="5.76" height="7.6" fill="#feda98"/><rect x="551.29" y="268.6" width="5.76" height="7.6" fill="#fee2b1"/><rect x="556.7" y="268.6" width="5.76" height="7.6" fill="#fff4e0"/><rect x="562.11" y="268.6" width="5.76" height="7.6" fill="#feda98"/><rect x="567.53" y="268.6" width="5.76" height="7.6" fill="#fdd68e"/><rect x="572.94" y="268.6" width="5.76" height="7.6" fill="#fdd68e"/><rect x="578.35" y="268.6" width="5.76" height="7.6" fill="#fdca70"/><rect x="583.76" y="268.6" width="5.76" height="7.6" fill="#fdd284"/><rect x="589.18" y="268.6" width="5.76" height="7.6" fill="#fdd284"/><rect x="594.59" y="268.6" width="5.76" height="7.6" fill="#fee1ad"/><rect x="600" y="268.6" width="5.76" height="7.6" fill="#fedda3"/><rect x="605.41" y="268.6" width="5.76" height="7.6" fill="#feda98"/><rect x="610.83" y="268.6" width="5.76" height="7.6" fill="#fef0d6"/><rect x="616.24" y="268.6" width="5.76" height="7.6" fill="#fee1ad"/><rect x="621.65" y="268.6" width="5.76" height="7.6" fill="#feeccc"/><rect x="627.06" y="268.6" width="5.76" height="7.6" fill="#fff4e0"/><rect x="632.48" y="268.6" width="5.76" height="7.6" fill="#fef0d6"/><rect x="637.89" y="268.6" width="5.76" height="7.6" fill="#fff4e0"/><rect x="643.3" y="268.6" width="5.76" height="7.6" fill="#fff8ea"/><rect x="654.12" y="268.6" width="5.76" height="7.6" fill="#fff4e0"/><rect x="470.1" y="276.5" width="5.76" height="7.6" fill="#dff1e5"/><rect x="475.51" y="276.5" width="5.76" height="7.6" fill="#dff1e5"/><rect x="480.93" y="276.5" width="5.76" height="7.6" fill="#c0e2cb"/><rect x="486.34" y="276.5" width="5.76" height="7.6" fill="#dff1e5"/><rect x="491.75" y="276.5" width="5.76" height="7.6" fill="#aad8b9"/><rect x="497.16" y="276.5" width="5.76" height="7.6" fill="#d5ecdc"/><rect x="502.58" y="276.5" width="5.76" height="7.6" fill="#aad8b9"/><rect x="507.99" y="276.5" width="5.76" height="7.6" fill="#d5ecdc"/><rect x="513.4" y="276.5" width="5.76" height="7.6" fill="#8bca9f"/><rect x="518.81" y="276.5" width="5.76" height="7.6" fill="#8bca9f"/><rect x="524.23" y="276.5" width="5.76" height="7.6" fill="#a0d4b0"/><rect x="529.64" y="276.5" width="5.76" height="7.6" fill="#56b273"/><rect x="535.05" y="276.5" width="5.76" height="7.6" fill="#6bbb85"/><rect x="540.46" y="276.5" width="5.76" height="7.6" fill="#60b77c"/><rect x="545.88" y="276.5" width="5.76" height="7.6" fill="#80c596"/><rect x="551.29" y="276.5" width="5.76" height="7.6" fill="#8bca9f"/><rect x="556.7" y="276.5" width="5.76" height="7.6" fill="#2b9e50"/><rect x="562.11" y="276.5" width="5.76" height="7.6" fill="#75c08d"/><rect x="567.53" y="276.5" width="5.76" height="7.6" fill="#a0d4b0"/><rect x="572.94" y="276.5" width="5.76" height="7.6" fill="#60b77c"/><rect x="578.35" y="276.5" width="5.76" height="7.6" fill="#dff1e5"/><rect x="583.76" y="276.5" width="5.76" height="7.6" fill="#75c08d"/><rect x="589.18" y="276.5" width="5.76" height="7.6" fill="#aad8b9"/><rect x="594.59" y="276.5" width="5.76" height="7.6" fill="#75c08d"/><rect x="600" y="276.5" width="5.76" height="7.6" fill="#d5ecdc"/><rect x="605.41" y="276.5" width="5.76" height="7.6" fill="#a0d4b0"/><rect x="610.83" y="276.5" width="5.76" height="7.6" fill="#eef7f1"/><rect x="616.24" y="276.5" width="5.76" height="7.6" fill="#d5ecdc"/><rect x="443.04" y="284.4" width="5.76" height="7.6" fill="#f8fbfd"/><rect x="448.45" y="284.4" width="5.76" height="7.6" fill="#f4f8fc"/><rect x="453.86" y="284.4" width="5.76" height="7.6" fill="#f4f8fc"/><rect x="459.28" y="284.4" width="5.76" height="7.6" fill="#f4f8fc"/><rect x="464.69" y="284.4" width="5.76" height="7.6" fill="#78b1d8"/><rect x="470.1" y="284.4" width="5.76" height="7.6" fill="#78b1d8"/><rect x="475.51" y="284.4" width="5.76" height="7.6" fill="#b0d2e8"/><rect x="480.93" y="284.4" width="5.76" height="7.6" fill="#78b1d8"/><rect x="486.34" y="284.4" width="5.76" height="7.6" fill="#6daad5"/><rect x="491.75" y="284.4" width="5.76" height="7.6" fill="#78b1d8"/><rect x="497.16" y="284.4" width="5.76" height="7.6" fill="#9ac4e2"/><rect x="502.58" y="284.4" width="5.76" height="7.6" fill="#9ac4e2"/><rect x="507.99" y="284.4" width="5.76" height="7.6" fill="#4090c8"/><rect x="513.4" y="284.4" width="5.76" height="7.6" fill="#9ac4e2"/><rect x="518.81" y="284.4" width="5.76" height="7.6" fill="#78b1d8"/><rect x="524.23" y="284.4" width="5.76" height="7.6" fill="#d2e5f2"/><rect x="529.64" y="284.4" width="5.76" height="7.6" fill="#c7deef"/><rect x="535.05" y="284.4" width="5.76" height="7.6" fill="#9ac4e2"/><rect x="540.46" y="284.4" width="5.76" height="7.6" fill="#83b8db"/><rect x="545.88" y="284.4" width="5.76" height="7.6" fill="#83b8db"/><rect x="551.29" y="284.4" width="5.76" height="7.6" fill="#ddecf5"/><rect x="556.7" y="284.4" width="5.76" height="7.6" fill="#ddecf5"/><rect x="562.11" y="284.4" width="5.76" height="7.6" fill="#ddecf5"/><rect x="567.53" y="284.4" width="5.76" height="7.6" fill="#f4f8fc"/><rect x="583.76" y="284.4" width="5.76" height="7.6" fill="#d2e5f2"/><rect x="589.18" y="284.4" width="5.76" height="7.6" fill="#f4f8fc"/><rect x="448.45" y="292.3" width="5.76" height="7.6" fill="#e2d7eb"/><rect x="453.86" y="292.3" width="5.76" height="7.6" fill="#e2d7eb"/><rect x="459.28" y="292.3" width="5.76" height="7.6" fill="#bfa5d2"/><rect x="464.69" y="292.3" width="5.76" height="7.6" fill="#cdb9dc"/><rect x="470.1" y="292.3" width="5.76" height="7.6" fill="#d4c3e1"/><rect x="475.51" y="292.3" width="5.76" height="7.6" fill="#9469b5"/><rect x="480.93" y="292.3" width="5.76" height="7.6" fill="#bfa5d2"/><rect x="486.34" y="292.3" width="5.76" height="7.6" fill="#d4c3e1"/><rect x="491.75" y="292.3" width="5.76" height="7.6" fill="#b89bce"/><rect x="497.16" y="292.3" width="5.76" height="7.6" fill="#bfa5d2"/><rect x="502.58" y="292.3" width="5.76" height="7.6" fill="#70379c"/><rect x="507.99" y="292.3" width="5.76" height="7.6" fill="#b89bce"/><rect x="513.4" y="292.3" width="5.76" height="7.6" fill="#e2d7eb"/><rect x="518.81" y="292.3" width="5.76" height="7.6" fill="#f1ebf5"/><rect x="524.23" y="292.3" width="5.76" height="7.6" fill="#d4c3e1"/><rect x="529.64" y="292.3" width="5.76" height="7.6" fill="#e2d7eb"/><rect x="535.05" y="292.3" width="5.76" height="7.6" fill="#cdb9dc"/><rect x="540.46" y="292.3" width="5.76" height="7.6" fill="#f1ebf5"/><rect x="545.88" y="292.3" width="5.76" height="7.6" fill="#eae1f0"/><rect x="551.29" y="292.3" width="5.76" height="7.6" fill="#e2d7eb"/><rect x="556.7" y="292.3" width="5.76" height="7.6" fill="#f8f5fa"/><rect x="562.11" y="292.3" width="5.76" height="7.6" fill="#fbf9fc"/><rect x="432.21" y="300.2" width="5.76" height="7.6" fill="#ededed"/><rect x="437.62" y="300.2" width="5.76" height="7.6" fill="#b2b2b2"/><rect x="443.04" y="300.2" width="5.76" height="7.6" fill="#8c8c8c"/><rect x="448.45" y="300.2" width="5.76" height="7.6" fill="#808080"/><rect x="453.86" y="300.2" width="5.76" height="7.6" fill="#808080"/><rect x="459.28" y="300.2" width="5.76" height="7.6" fill="#808080"/><rect x="464.69" y="300.2" width="5.76" height="7.6" fill="#000000"/><rect x="470.1" y="300.2" width="5.76" height="7.6" fill="#404040"/><rect x="475.51" y="300.2" width="5.76" height="7.6" fill="#1a1a1a"/><rect x="480.93" y="300.2" width="5.76" height="7.6" fill="#404040"/><rect x="486.34" y="300.2" width="5.76" height="7.6" fill="#333333"/><rect x="491.75" y="300.2" width="5.76" height="7.6" fill="#0d0d0d"/><rect x="497.16" y="300.2" width="5.76" height="7.6" fill="#000000"/><rect x="502.58" y="300.2" width="5.76" height="7.6" fill="#000000"/><rect x="507.99" y="300.2" width="5.76" height="7.6" fill="#000000"/><rect x="513.4" y="300.2" width="5.76" height="7.6" fill="#000000"/><rect x="518.81" y="300.2" width="5.76" height="7.6" fill="#000000"/><rect x="524.23" y="300.2" width="5.76" height="7.6" fill="#404040"/><rect x="529.64" y="300.2" width="5.76" height="7.6" fill="#262626"/><rect x="535.05" y="300.2" width="5.76" height="7.6" fill="#808080"/><rect x="540.46" y="300.2" width="5.76" height="7.6" fill="#595959"/><rect x="545.88" y="300.2" width="5.76" height="7.6" fill="#8c8c8c"/><rect x="551.29" y="300.2" width="5.76" height="7.6" fill="#4c4c4c"/><rect x="556.7" y="300.2" width="5.76" height="7.6" fill="#999999"/><rect x="562.11" y="300.2" width="5.76" height="7.6" fill="#808080"/><rect x="567.53" y="300.2" width="5.76" height="7.6" fill="#b2b2b2"/><rect x="572.94" y="300.2" width="5.76" height="7.6" fill="#808080"/><rect x="578.35" y="300.2" width="5.76" height="7.6" fill="#d9d9d9"/><rect x="583.76" y="300.2" width="5.76" height="7.6" fill="#a6a6a6"/><rect x="589.18" y="300.2" width="5.76" height="7.6" fill="#fafafa"/><rect x="594.59" y="300.2" width="5.76" height="7.6" fill="#999999"/><rect x="600" y="300.2" width="5.76" height="7.6" fill="#b2b2b2"/><rect x="605.41" y="300.2" width="5.76" height="7.6" fill="#b2b2b2"/><rect x="610.83" y="300.2" width="5.76" height="7.6" fill="#b2b2b2"/><rect x="616.24" y="300.2" width="5.76" height="7.6" fill="#e6e6e6"/><rect x="627.06" y="300.2" width="5.76" height="7.6" fill="#e6e6e6"/><rect x="632.48" y="300.2" width="5.76" height="7.6" fill="#a6a6a6"/><rect x="643.3" y="300.2" width="5.76" height="7.6" fill="#e6e6e6"/><rect x="648.71" y="300.2" width="5.76" height="7.6" fill="#e6e6e6"/><rect x="654.12" y="300.2" width="5.76" height="7.6" fill="#e6e6e6"/><rect x="664.95" y="300.2" width="5.76" height="7.6" fill="#e6e6e6"/><rect x="670.36" y="300.2" width="5.76" height="7.6" fill="#cccccc"/></g>
<polyline fill="none" stroke="#000000" stroke-width="2.2" stroke-linejoin="miter" stroke-linecap="square" points="426.8,240.6 432.21,240.6 432.21,240 437.62,240 437.62,216.2 443.04,216.2 443.04,198 448.45,198 448.45,192 453.86,192 453.86,192 459.28,192 459.28,192 464.69,192 464.69,112.6 470.1,112.6 470.1,155.3 475.51,155.3 475.51,137.1 480.93,137.1 480.93,155.3 486.34,155.3 486.34,149.4 491.75,149.4 491.75,130.8 497.16,130.8 497.16,100.5 502.58,100.5 502.58,124.5 507.99,124.5 507.99,124.5 513.4,124.5 513.4,75.7 518.81,75.7 518.81,93.7 524.23,93.7 524.23,149.1 529.64,149.1 529.64,137.1 535.05,137.1 535.05,180.2 540.46,180.2 540.46,161.4 545.88,161.4 545.88,191.5 551.29,191.5 551.29,155.3 556.7,155.3 556.7,191.5 562.11,191.5 562.11,210.1 567.53,210.1 567.53,205 572.94,205 572.94,221.6 578.35,221.6 578.35,204.5 583.76,204.5 583.76,234.4 589.18,234.4 589.18,198.2 594.59,198.2 594.59,210.4 600,210.4 600,210.4 605.41,210.4 605.41,216.6 610.83,216.6 610.83,216.6 616.24,216.6 616.24,232 621.65,232 621.65,240.1 627.06,240.1 627.06,235 632.48,235 632.48,216.7 637.89,216.7 637.89,240.9 643.3,240.9 643.3,240.9 648.71,240.9 648.71,240.9 654.12,240.9 654.12,240.9 659.54,240.9 659.54,240.9 664.95,240.9 664.95,240.9 670.36,240.9 670.36,228.6 675.78,228.6 675.78,240.9 681.19,240.9 681.19,240.9 686.6,240.9"/>
<polyline fill="none" stroke="#70379b" stroke-width="2.0" stroke-linejoin="miter" stroke-linecap="square" points="426.8,235.1 432.21,235.1 432.21,207 437.62,207 437.62,196 443.04,196 443.04,200.4 448.45,200.4 448.45,151.1 453.86,151.1 453.86,145.3 459.28,145.3 459.28,105.8 464.69,105.8 464.69,123.3 470.1,123.3 470.1,128.9 475.51,128.9 475.51,61.5 480.93,61.5 480.93,100.5 486.34,100.5 486.34,117 491.75,117 491.75,83.3 497.16,83.3 497.16,94.6 502.58,94.6 502.58,27.1 507.99,27.1 507.99,82.9 513.4,82.9 513.4,128.9 518.81,128.9 518.81,151.6 524.23,151.6 524.23,122.5 529.64,122.5 529.64,134 535.05,134 535.05,111.6 540.46,111.6 540.46,151.4 545.88,151.4 545.88,140.2 551.29,140.2 551.29,133.9 556.7,133.9 556.7,167.6 562.11,167.6 562.11,178.8 567.53,178.8 567.53,190.6 572.94,190.6 572.94,207.2 578.35,207.2 578.35,206.4 583.76,206.4 583.76,218.4 589.18,218.4 589.18,211 594.59,211 594.59,218.4 600,218.4 600,218.4 605.41,218.4 605.41,206.6 610.83,206.6 610.83,206.6 616.24,206.6 616.24,218.4 621.65,218.4 621.65,229.2 627.06,229.2 627.06,224.5 632.48,224.5 632.48,217.8 637.89,217.8 637.89,224.1 643.3,224.1 643.3,229 648.71,229 648.71,234.8 654.12,234.8 654.12,234.4 659.54,234.4 659.54,229.4 664.95,229.4 664.95,234.3 670.36,234.3 670.36,235.4 675.78,235.4 675.78,236.5 681.19,236.5 681.19,237 686.6,237"/>
<polyline fill="none" stroke="#1e7abe" stroke-width="2.0" stroke-linejoin="miter" stroke-linecap="square" points="426.8,233 432.21,233 432.21,233.7 437.62,233.7 437.62,230.4 443.04,230.4 443.04,203.1 448.45,203.1 448.45,205.9 453.86,205.9 453.86,205.9 459.28,205.9 459.28,210.6 464.69,210.6 464.69,151.6 470.1,151.6 470.1,148.8 475.51,148.8 475.51,166.4 480.93,166.4 480.93,136.5 486.34,136.5 486.34,129.2 491.75,129.2 491.75,126.4 497.16,126.4 497.16,148.8 502.58,148.8 502.58,144.4 507.99,144.4 507.99,116.5 513.4,116.5 513.4,148.5 518.81,148.5 518.81,134 524.23,134 524.23,174 529.64,174 529.64,166.4 535.05,166.4 535.05,146 540.46,146 540.46,133.9 545.88,133.9 545.88,135.8 551.29,135.8 551.29,183.9 556.7,183.9 556.7,184 562.11,184 562.11,191 567.53,191 567.53,203.4 572.94,203.4 572.94,208 578.35,208 578.35,212.7 583.76,212.7 583.76,186.3 589.18,186.3 589.18,200.8 594.59,200.8 594.59,211 600,211 600,225.6 605.41,225.6 605.41,225.6 610.83,225.6 610.83,228 616.24,228 616.24,223.8 621.65,223.8 621.65,229.5 627.06,229.5 627.06,218.7 632.48,218.7 632.48,218 637.89,218 637.89,230.6 643.3,230.6 643.3,233.7 648.71,233.7 648.71,233.7 654.12,233.7 654.12,230.8 659.54,230.8 659.54,230.8 664.95,230.8 664.95,236.5 670.36,236.5 670.36,237.2 675.78,237.2 675.78,237.4 681.19,237.4 681.19,237.6 686.6,237.6"/>
<polyline fill="none" stroke="#1d9641" stroke-width="2.0" stroke-linejoin="miter" stroke-linecap="square" points="426.8,236.6 432.21,236.6 432.21,236.4 437.62,236.4 437.62,238.7 443.04,238.7 443.04,238.9 448.45,238.9 448.45,237.1 453.86,237.1 453.86,237.1 459.28,237.1 459.28,238.7 464.69,238.7 464.69,232.7 470.1,232.7 470.1,222.5 475.51,222.5 475.51,222.5 480.93,222.5 480.93,214 486.34,214 486.34,220.3 491.75,220.3 491.75,207.5 497.16,207.5 497.16,217.8 502.58,217.8 502.58,207.5 507.99,207.5 507.99,218.5 513.4,218.5 513.4,205.5 518.81,205.5 518.81,204 524.23,204 524.23,209.9 529.64,209.9 529.64,191.3 535.05,191.3 535.05,194.8 540.46,194.8 540.46,192.6 545.88,192.6 545.88,196.5 551.29,196.5 551.29,199.2 556.7,199.2 556.7,178 562.11,178 562.11,191.7 567.53,191.7 567.53,205.5 572.94,205.5 572.94,190.7 578.35,190.7 578.35,219.8 583.76,219.8 583.76,199 589.18,199 589.18,209.8 594.59,209.8 594.59,201.2 600,201.2 600,220.2 605.41,220.2 605.41,207.6 610.83,207.6 610.83,224 616.24,224 616.24,219.8 621.65,219.8 621.65,229.5 627.06,229.5 627.06,230.5 632.48,230.5 632.48,231.8 637.89,231.8 637.89,231.4 643.3,231.4 643.3,236.5 648.71,236.5 648.71,236.5 654.12,236.5 654.12,236.5 659.54,236.5 659.54,236.5 664.95,236.5 664.95,237 670.36,237 670.36,238.3 675.78,238.3 675.78,238.5 681.19,238.5 681.19,238.6 686.6,238.6"/>
<polyline fill="none" stroke="#fbb432" stroke-width="2.0" stroke-linejoin="miter" stroke-linecap="square" points="426.8,240.6 432.21,240.6 432.21,240.6 437.62,240.6 437.62,240.6 443.04,240.6 443.04,240.6 448.45,240.6 448.45,239.6 453.86,239.6 453.86,238.3 459.28,238.3 459.28,238.9 464.69,238.9 464.69,238.9 470.1,238.9 470.1,237.9 475.51,237.9 475.51,236.4 480.93,236.4 480.93,237.9 486.34,237.9 486.34,236.7 491.75,236.7 491.75,235.2 497.16,235.2 497.16,234.9 502.58,234.9 502.58,234.5 507.99,234.5 507.99,235.2 513.4,235.2 513.4,233.3 518.81,233.3 518.81,234.9 524.23,234.9 524.23,235.8 529.64,235.8 529.64,231.6 535.05,231.6 535.05,232 540.46,232 540.46,232 545.88,232 545.88,228.9 551.29,228.9 551.29,230.8 556.7,230.8 556.7,231.2 562.11,231.2 562.11,228.6 567.53,228.6 567.53,227.3 572.94,227.3 572.94,227.3 578.35,227.3 578.35,224.8 583.76,224.8 583.76,226.7 589.18,226.7 589.18,226.7 594.59,226.7 594.59,230.3 600,230.3 600,228.6 605.41,228.6 605.41,229.2 610.83,229.2 610.83,232.4 616.24,232.4 616.24,229.2 621.65,229.2 621.65,230.5 627.06,230.5 627.06,232.4 632.48,232.4 632.48,233.7 637.89,233.7 637.89,234.4 643.3,234.4 643.3,236.8 648.71,236.8 648.71,236.8 654.12,236.8 654.12,236.5 659.54,236.5 659.54,236.8 664.95,236.8 664.95,237.5 670.36,237.5 670.36,238 675.78,238 675.78,238.7 681.19,238.7 681.19,239.3 686.6,239.3"/>
<polyline fill="none" stroke="#e82119" stroke-width="2.0" stroke-linejoin="miter" stroke-linecap="square" points="426.8,238.4 432.21,238.4 432.21,237.6 437.62,237.6 437.62,239.2 443.04,239.2 443.04,240.2 448.45,240.2 448.45,240.8 453.86,240.8 453.86,240.4 459.28,240.4 459.28,241 464.69,241 464.69,240.8 470.1,240.8 470.1,239.2 475.51,239.2 475.51,240.8 480.93,240.8 480.93,241 486.34,241 486.34,238.7 491.75,238.7 491.75,240 497.16,240 497.16,239.6 502.58,239.6 502.58,238.9 507.99,238.9 507.99,238.9 513.4,238.9 513.4,237.4 518.81,237.4 518.81,237.4 524.23,237.4 524.23,238.3 529.64,238.3 529.64,238.3 535.05,238.3 535.05,234.5 540.46,234.5 540.46,236.4 545.88,236.4 545.88,234.5 551.29,234.5 551.29,237.1 556.7,237.1 556.7,231.8 562.11,231.8 562.11,235.6 567.53,235.6 567.53,236.9 572.94,236.9 572.94,238.8 578.35,238.8 578.35,234.4 583.76,234.4 583.76,236.9 589.18,236.9 589.18,236.3 594.59,236.3 594.59,235 600,235 600,236.9 605.41,236.9 605.41,232.8 610.83,232.8 610.83,235.6 616.24,235.6 616.24,235.4 621.65,235.4 621.65,238.8 627.06,238.8 627.06,235.6 632.48,235.6 632.48,235 637.89,235 637.89,235.4 643.3,235.4 643.3,238.8 648.71,238.8 648.71,238.8 654.12,238.8 654.12,238.8 659.54,238.8 659.54,238.9 664.95,238.9 664.95,239 670.36,239 670.36,239 675.78,239 675.78,239.1 681.19,239.1 681.19,239.2 686.6,239.2"/>
<line x1="426.8" y1="241.5" x2="686.6" y2="241.5" stroke="#1a1a1a" stroke-width="1"/>
<path d="M413.8 8.6 V240.9" stroke="#222" stroke-width="1.4" fill="none"/>
<path d="M407.8 8.6 H413.8" stroke="#222" stroke-width="1.4"/>
<text x="404.8" y="13.2" font-size="13" text-anchor="end">0.025</text>
<path d="M407.8 55.06 H413.8" stroke="#222" stroke-width="1.4"/>
<text x="404.8" y="59.66" font-size="13" text-anchor="end">0.020</text>
<path d="M407.8 101.52 H413.8" stroke="#222" stroke-width="1.4"/>
<text x="404.8" y="106.12" font-size="13" text-anchor="end">0.015</text>
<path d="M407.8 147.98 H413.8" stroke="#222" stroke-width="1.4"/>
<text x="404.8" y="152.58" font-size="13" text-anchor="end">0.010</text>
<path d="M407.8 194.44 H413.8" stroke="#222" stroke-width="1.4"/>
<text x="404.8" y="199.04" font-size="13" text-anchor="end">0.005</text>
<path d="M407.8 240.9 H413.8" stroke="#222" stroke-width="1.4"/>
<text x="404.8" y="245.5" font-size="13" text-anchor="end">0.000</text>
<text transform="translate(363.5 133.4) rotate(-90)" font-size="12.9" text-anchor="middle">Scaled frequency</text>
<path d="M426.8 317.4 V311.8 H686.6 V317.4" stroke="#222" stroke-width="1.5" fill="none"/>
<path d="M470.1 311.8 V317.4" stroke="#222" stroke-width="1.5"/>
<path d="M524.23 311.8 V317.4" stroke="#222" stroke-width="1.5"/>
<path d="M578.35 311.8 V317.4" stroke="#222" stroke-width="1.5"/>
<path d="M632.48 311.8 V317.4" stroke="#222" stroke-width="1.5"/>
<text x="426.8" y="330" font-size="13" text-anchor="middle">10</text>
<text x="470.1" y="330" font-size="13" text-anchor="middle">50</text>
<text x="524.23" y="330" font-size="13" text-anchor="middle">100</text>
<text x="578.35" y="330" font-size="13" text-anchor="middle">150</text>
<text x="632.48" y="330" font-size="13" text-anchor="middle">200</text>
<text x="686.6" y="330" font-size="13" text-anchor="middle">250</text>
<text x="552.8" y="344.8" font-size="12.8" text-anchor="middle">Poly(A)-tail length (nt)</text>
<text x="688" y="13.6" font-size="13" font-style="italic" text-anchor="end">Lsm1</text>
<text x="687.1" y="28.7" font-size="13" text-anchor="end">Half-life = 2.35 h</text>
<g><rect x="770.3" y="260.7" width="5.89" height="7.6" fill="#fce9e8"/><rect x="803.56" y="260.7" width="5.89" height="7.6" fill="#f4a6a2"/><rect x="853.46" y="260.7" width="5.89" height="7.6" fill="#fce4e3"/><rect x="881.17" y="260.7" width="5.89" height="7.6" fill="#fbdedc"/><rect x="892.26" y="260.7" width="5.89" height="7.6" fill="#fbdedc"/><rect x="914.44" y="260.7" width="5.89" height="7.6" fill="#fefbfa"/><rect x="919.98" y="260.7" width="5.89" height="7.6" fill="#fad2d0"/><rect x="925.53" y="260.7" width="5.89" height="7.6" fill="#f4a6a2"/><rect x="931.07" y="260.7" width="5.89" height="7.6" fill="#e52b22"/><rect x="936.61" y="260.7" width="5.89" height="7.6" fill="#e94d45"/><rect x="942.16" y="260.7" width="5.89" height="7.6" fill="#ed6e68"/><rect x="947.7" y="260.7" width="5.89" height="7.6" fill="#e52b22"/><rect x="953.24" y="260.7" width="5.89" height="7.6" fill="#e52b22"/><rect x="958.79" y="260.7" width="5.89" height="7.6" fill="#e52b22"/><rect x="964.33" y="260.7" width="5.89" height="7.6" fill="#e52b22"/><rect x="969.88" y="260.7" width="5.89" height="7.6" fill="#e52b22"/><rect x="975.42" y="260.7" width="5.89" height="7.6" fill="#e52b22"/><rect x="980.96" y="260.7" width="5.89" height="7.6" fill="#e52b22"/><rect x="986.51" y="260.7" width="5.89" height="7.6" fill="#e52b22"/><rect x="992.05" y="260.7" width="5.89" height="7.6" fill="#e94d45"/><rect x="997.59" y="260.7" width="5.89" height="7.6" fill="#eb5850"/><rect x="1003.14" y="260.7" width="5.89" height="7.6" fill="#eb5850"/><rect x="1008.68" y="260.7" width="5.89" height="7.6" fill="#e7362d"/><rect x="1014.23" y="260.7" width="5.89" height="7.6" fill="#ef7973"/><rect x="1019.77" y="260.7" width="5.89" height="7.6" fill="#f0847f"/><rect x="1025.31" y="260.7" width="5.89" height="7.6" fill="#f39b96"/><rect x="1030.86" y="260.7" width="5.89" height="7.6" fill="#fef4f3"/><rect x="770.3" y="268.6" width="5.89" height="7.6" fill="#fffaf3"/><rect x="775.84" y="268.6" width="5.89" height="7.6" fill="#fffaf3"/><rect x="781.39" y="268.6" width="5.89" height="7.6" fill="#fffaf3"/><rect x="786.93" y="268.6" width="5.89" height="7.6" fill="#fffaf3"/><rect x="792.47" y="268.6" width="5.89" height="7.6" fill="#fffaf3"/><rect x="798.02" y="268.6" width="5.89" height="7.6" fill="#fffaf3"/><rect x="803.56" y="268.6" width="5.89" height="7.6" fill="#fffefb"/><rect x="809.11" y="268.6" width="5.89" height="7.6" fill="#fffefb"/><rect x="814.65" y="268.6" width="5.89" height="7.6" fill="#fffbf5"/><rect x="820.19" y="268.6" width="5.89" height="7.6" fill="#fffbf5"/><rect x="825.74" y="268.6" width="5.89" height="7.6" fill="#fffefb"/><rect x="831.28" y="268.6" width="5.89" height="7.6" fill="#fffefb"/><rect x="836.83" y="268.6" width="5.89" height="7.6" fill="#fffbf5"/><rect x="842.37" y="268.6" width="5.89" height="7.6" fill="#fff9ef"/><rect x="847.91" y="268.6" width="5.89" height="7.6" fill="#fff6e6"/><rect x="853.46" y="268.6" width="5.89" height="7.6" fill="#fff4e0"/><rect x="859" y="268.6" width="5.89" height="7.6" fill="#fff8ea"/><rect x="864.54" y="268.6" width="5.89" height="7.6" fill="#fff8ea"/><rect x="870.09" y="268.6" width="5.89" height="7.6" fill="#fef2da"/><rect x="875.63" y="268.6" width="5.89" height="7.6" fill="#fef2da"/><rect x="881.17" y="268.6" width="5.89" height="7.6" fill="#fef2da"/><rect x="886.72" y="268.6" width="5.89" height="7.6" fill="#feeccc"/><rect x="892.26" y="268.6" width="5.89" height="7.6" fill="#fef0d6"/><rect x="897.81" y="268.6" width="5.89" height="7.6" fill="#fee8c2"/><rect x="903.35" y="268.6" width="5.89" height="7.6" fill="#fee8c2"/><rect x="908.89" y="268.6" width="5.89" height="7.6" fill="#fee5b7"/><rect x="914.44" y="268.6" width="5.89" height="7.6" fill="#fee8c2"/><rect x="919.98" y="268.6" width="5.89" height="7.6" fill="#fee5b7"/><rect x="925.53" y="268.6" width="5.89" height="7.6" fill="#fee1ad"/><rect x="931.07" y="268.6" width="5.89" height="7.6" fill="#fedda3"/><rect x="936.61" y="268.6" width="5.89" height="7.6" fill="#fdd284"/><rect x="942.16" y="268.6" width="5.89" height="7.6" fill="#fdca70"/><rect x="947.7" y="268.6" width="5.89" height="7.6" fill="#fdc765"/><rect x="953.24" y="268.6" width="5.89" height="7.6" fill="#fdd284"/><rect x="958.79" y="268.6" width="5.89" height="7.6" fill="#fdd68e"/><rect x="964.33" y="268.6" width="5.89" height="7.6" fill="#fdd68e"/><rect x="969.88" y="268.6" width="5.89" height="7.6" fill="#fdd68e"/><rect x="975.42" y="268.6" width="5.89" height="7.6" fill="#fdd284"/><rect x="980.96" y="268.6" width="5.89" height="7.6" fill="#fedda3"/><rect x="986.51" y="268.6" width="5.89" height="7.6" fill="#fee1ad"/><rect x="992.05" y="268.6" width="5.89" height="7.6" fill="#fee5b7"/><rect x="997.59" y="268.6" width="5.89" height="7.6" fill="#fee8c2"/><rect x="1003.14" y="268.6" width="5.89" height="7.6" fill="#fee8c2"/><rect x="1008.68" y="268.6" width="5.89" height="7.6" fill="#fee8c2"/><rect x="1014.23" y="268.6" width="5.89" height="7.6" fill="#feeccc"/><rect x="1019.77" y="268.6" width="5.89" height="7.6" fill="#feeccc"/><rect x="1025.31" y="268.6" width="5.89" height="7.6" fill="#fef0d6"/><rect x="1030.86" y="268.6" width="5.89" height="7.6" fill="#fff6e6"/><rect x="770.3" y="276.5" width="5.89" height="7.6" fill="#d1ead9"/><rect x="775.84" y="276.5" width="5.89" height="7.6" fill="#d1ead9"/><rect x="781.39" y="276.5" width="5.89" height="7.6" fill="#d1ead9"/><rect x="786.93" y="276.5" width="5.89" height="7.6" fill="#d1ead9"/><rect x="792.47" y="276.5" width="5.89" height="7.6" fill="#d1ead9"/><rect x="798.02" y="276.5" width="5.89" height="7.6" fill="#d1ead9"/><rect x="803.56" y="276.5" width="5.89" height="7.6" fill="#d1ead9"/><rect x="809.11" y="276.5" width="5.89" height="7.6" fill="#c6e5d0"/><rect x="814.65" y="276.5" width="5.89" height="7.6" fill="#c6e5d0"/><rect x="820.19" y="276.5" width="5.89" height="7.6" fill="#c6e5d0"/><rect x="825.74" y="276.5" width="5.89" height="7.6" fill="#c6e5d0"/><rect x="831.28" y="276.5" width="5.89" height="7.6" fill="#c6e5d0"/><rect x="836.83" y="276.5" width="5.89" height="7.6" fill="#c6e5d0"/><rect x="842.37" y="276.5" width="5.89" height="7.6" fill="#bfe2ca"/><rect x="847.91" y="276.5" width="5.89" height="7.6" fill="#bfe2ca"/><rect x="853.46" y="276.5" width="5.89" height="7.6" fill="#c6e5d0"/><rect x="859" y="276.5" width="5.89" height="7.6" fill="#c6e5d0"/><rect x="864.54" y="276.5" width="5.89" height="7.6" fill="#bfe2ca"/><rect x="870.09" y="276.5" width="5.89" height="7.6" fill="#bfe2ca"/><rect x="875.63" y="276.5" width="5.89" height="7.6" fill="#bae0c6"/><rect x="881.17" y="276.5" width="5.89" height="7.6" fill="#bae0c6"/><rect x="886.72" y="276.5" width="5.89" height="7.6" fill="#bae0c6"/><rect x="892.26" y="276.5" width="5.89" height="7.6" fill="#98d0aa"/><rect x="897.81" y="276.5" width="5.89" height="7.6" fill="#8ccaa0"/><rect x="903.35" y="276.5" width="5.89" height="7.6" fill="#75c08d"/><rect x="908.89" y="276.5" width="5.89" height="7.6" fill="#75c08d"/><rect x="914.44" y="276.5" width="5.89" height="7.6" fill="#75c08d"/><rect x="919.98" y="276.5" width="5.89" height="7.6" fill="#52b070"/><rect x="925.53" y="276.5" width="5.89" height="7.6" fill="#52b070"/><rect x="931.07" y="276.5" width="5.89" height="7.6" fill="#30a054"/><rect x="936.61" y="276.5" width="5.89" height="7.6" fill="#3ca65e"/><rect x="942.16" y="276.5" width="5.89" height="7.6" fill="#52b070"/><rect x="947.7" y="276.5" width="5.89" height="7.6" fill="#5eb67a"/><rect x="953.24" y="276.5" width="5.89" height="7.6" fill="#6abb84"/><rect x="958.79" y="276.5" width="5.89" height="7.6" fill="#80c596"/><rect x="964.33" y="276.5" width="5.89" height="7.6" fill="#75c08d"/><rect x="969.88" y="276.5" width="5.89" height="7.6" fill="#98d0aa"/><rect x="975.42" y="276.5" width="5.89" height="7.6" fill="#a3d5b3"/><rect x="980.96" y="276.5" width="5.89" height="7.6" fill="#aedabc"/><rect x="986.51" y="276.5" width="5.89" height="7.6" fill="#bae0c6"/><rect x="992.05" y="276.5" width="5.89" height="7.6" fill="#bae0c6"/><rect x="997.59" y="276.5" width="5.89" height="7.6" fill="#bae0c6"/><rect x="1003.14" y="276.5" width="5.89" height="7.6" fill="#bfe2ca"/><rect x="1008.68" y="276.5" width="5.89" height="7.6" fill="#bfe2ca"/><rect x="1014.23" y="276.5" width="5.89" height="7.6" fill="#c6e5d0"/><rect x="1019.77" y="276.5" width="5.89" height="7.6" fill="#cce8d5"/><rect x="1025.31" y="276.5" width="5.89" height="7.6" fill="#d1ead9"/><rect x="1030.86" y="276.5" width="5.89" height="7.6" fill="#d1ead9"/><rect x="770.3" y="284.4" width="5.89" height="7.6" fill="#d2e5f2"/><rect x="775.84" y="284.4" width="5.89" height="7.6" fill="#d2e5f2"/><rect x="781.39" y="284.4" width="5.89" height="7.6" fill="#d2e5f2"/><rect x="786.93" y="284.4" width="5.89" height="7.6" fill="#d2e5f2"/><rect x="792.47" y="284.4" width="5.89" height="7.6" fill="#d2e5f2"/><rect x="798.02" y="284.4" width="5.89" height="7.6" fill="#d2e5f2"/><rect x="803.56" y="284.4" width="5.89" height="7.6" fill="#d2e5f2"/><rect x="809.11" y="284.4" width="5.89" height="7.6" fill="#d2e5f2"/><rect x="814.65" y="284.4" width="5.89" height="7.6" fill="#cee2f1"/><rect x="820.19" y="284.4" width="5.89" height="7.6" fill="#cee2f1"/><rect x="825.74" y="284.4" width="5.89" height="7.6" fill="#cee2f1"/><rect x="831.28" y="284.4" width="5.89" height="7.6" fill="#c7deef"/><rect x="836.83" y="284.4" width="5.89" height="7.6" fill="#c7deef"/><rect x="842.37" y="284.4" width="5.89" height="7.6" fill="#bcd8ec"/><rect x="847.91" y="284.4" width="5.89" height="7.6" fill="#b0d2e8"/><rect x="853.46" y="284.4" width="5.89" height="7.6" fill="#b0d2e8"/><rect x="859" y="284.4" width="5.89" height="7.6" fill="#a5cbe5"/><rect x="864.54" y="284.4" width="5.89" height="7.6" fill="#9ac4e2"/><rect x="870.09" y="284.4" width="5.89" height="7.6" fill="#9ac4e2"/><rect x="875.63" y="284.4" width="5.89" height="7.6" fill="#83b8db"/><rect x="881.17" y="284.4" width="5.89" height="7.6" fill="#83b8db"/><rect x="886.72" y="284.4" width="5.89" height="7.6" fill="#62a4d2"/><rect x="892.26" y="284.4" width="5.89" height="7.6" fill="#62a4d2"/><rect x="897.81" y="284.4" width="5.89" height="7.6" fill="#4090c8"/><rect x="903.35" y="284.4" width="5.89" height="7.6" fill="#2984c1"/><rect x="908.89" y="284.4" width="5.89" height="7.6" fill="#348ac4"/><rect x="914.44" y="284.4" width="5.89" height="7.6" fill="#569ece"/><rect x="919.98" y="284.4" width="5.89" height="7.6" fill="#62a4d2"/><rect x="925.53" y="284.4" width="5.89" height="7.6" fill="#569ece"/><rect x="931.07" y="284.4" width="5.89" height="7.6" fill="#6daad5"/><rect x="936.61" y="284.4" width="5.89" height="7.6" fill="#83b8db"/><rect x="942.16" y="284.4" width="5.89" height="7.6" fill="#8ebede"/><rect x="947.7" y="284.4" width="5.89" height="7.6" fill="#a5cbe5"/><rect x="953.24" y="284.4" width="5.89" height="7.6" fill="#b0d2e8"/><rect x="958.79" y="284.4" width="5.89" height="7.6" fill="#bcd8ec"/><rect x="964.33" y="284.4" width="5.89" height="7.6" fill="#bcd8ec"/><rect x="969.88" y="284.4" width="5.89" height="7.6" fill="#c7deef"/><rect x="975.42" y="284.4" width="5.89" height="7.6" fill="#c7deef"/><rect x="980.96" y="284.4" width="5.89" height="7.6" fill="#c7deef"/><rect x="986.51" y="284.4" width="5.89" height="7.6" fill="#cee2f1"/><rect x="992.05" y="284.4" width="5.89" height="7.6" fill="#cee2f1"/><rect x="997.59" y="284.4" width="5.89" height="7.6" fill="#cee2f1"/><rect x="1003.14" y="284.4" width="5.89" height="7.6" fill="#d2e5f2"/><rect x="1008.68" y="284.4" width="5.89" height="7.6" fill="#d2e5f2"/><rect x="1014.23" y="284.4" width="5.89" height="7.6" fill="#d2e5f2"/><rect x="1019.77" y="284.4" width="5.89" height="7.6" fill="#d2e5f2"/><rect x="1025.31" y="284.4" width="5.89" height="7.6" fill="#d2e5f2"/><rect x="1030.86" y="284.4" width="5.89" height="7.6" fill="#d6e8f3"/><rect x="770.3" y="292.3" width="5.89" height="7.6" fill="#dbcde6"/><rect x="775.84" y="292.3" width="5.89" height="7.6" fill="#dbcde6"/><rect x="781.39" y="292.3" width="5.89" height="7.6" fill="#dbcde6"/><rect x="786.93" y="292.3" width="5.89" height="7.6" fill="#dbcde6"/><rect x="792.47" y="292.3" width="5.89" height="7.6" fill="#dbcde6"/><rect x="798.02" y="292.3" width="5.89" height="7.6" fill="#dbcde6"/><rect x="803.56" y="292.3" width="5.89" height="7.6" fill="#dbcde6"/><rect x="809.11" y="292.3" width="5.89" height="7.6" fill="#d4c3e1"/><rect x="814.65" y="292.3" width="5.89" height="7.6" fill="#d4c3e1"/><rect x="820.19" y="292.3" width="5.89" height="7.6" fill="#cdb9dc"/><rect x="825.74" y="292.3" width="5.89" height="7.6" fill="#d4c3e1"/><rect x="831.28" y="292.3" width="5.89" height="7.6" fill="#cdb9dc"/><rect x="836.83" y="292.3" width="5.89" height="7.6" fill="#bfa5d2"/><rect x="842.37" y="292.3" width="5.89" height="7.6" fill="#b091c9"/><rect x="847.91" y="292.3" width="5.89" height="7.6" fill="#a987c4"/><rect x="853.46" y="292.3" width="5.89" height="7.6" fill="#a27dbf"/><rect x="859" y="292.3" width="5.89" height="7.6" fill="#9b73ba"/><rect x="864.54" y="292.3" width="5.89" height="7.6" fill="#9b73ba"/><rect x="870.09" y="292.3" width="5.89" height="7.6" fill="#9b73ba"/><rect x="875.63" y="292.3" width="5.89" height="7.6" fill="#9469b5"/><rect x="881.17" y="292.3" width="5.89" height="7.6" fill="#9469b5"/><rect x="886.72" y="292.3" width="5.89" height="7.6" fill="#9469b5"/><rect x="892.26" y="292.3" width="5.89" height="7.6" fill="#9469b5"/><rect x="897.81" y="292.3" width="5.89" height="7.6" fill="#8555ab"/><rect x="903.35" y="292.3" width="5.89" height="7.6" fill="#8555ab"/><rect x="908.89" y="292.3" width="5.89" height="7.6" fill="#9b73ba"/><rect x="914.44" y="292.3" width="5.89" height="7.6" fill="#b091c9"/><rect x="919.98" y="292.3" width="5.89" height="7.6" fill="#b89bce"/><rect x="925.53" y="292.3" width="5.89" height="7.6" fill="#bfa5d2"/><rect x="931.07" y="292.3" width="5.89" height="7.6" fill="#c6afd7"/><rect x="936.61" y="292.3" width="5.89" height="7.6" fill="#cdb9dc"/><rect x="942.16" y="292.3" width="5.89" height="7.6" fill="#d4c3e1"/><rect x="947.7" y="292.3" width="5.89" height="7.6" fill="#dbcde6"/><rect x="953.24" y="292.3" width="5.89" height="7.6" fill="#dbcde6"/><rect x="958.79" y="292.3" width="5.89" height="7.6" fill="#e2d7eb"/><rect x="964.33" y="292.3" width="5.89" height="7.6" fill="#e0d3e9"/><rect x="969.88" y="292.3" width="5.89" height="7.6" fill="#e0d3e9"/><rect x="975.42" y="292.3" width="5.89" height="7.6" fill="#e0d3e9"/><rect x="980.96" y="292.3" width="5.89" height="7.6" fill="#e0d3e9"/><rect x="986.51" y="292.3" width="5.89" height="7.6" fill="#e2d7eb"/><rect x="992.05" y="292.3" width="5.89" height="7.6" fill="#e2d7eb"/><rect x="997.59" y="292.3" width="5.89" height="7.6" fill="#e2d7eb"/><rect x="1003.14" y="292.3" width="5.89" height="7.6" fill="#e2d7eb"/><rect x="1008.68" y="292.3" width="5.89" height="7.6" fill="#e2d7eb"/><rect x="1014.23" y="292.3" width="5.89" height="7.6" fill="#e2d7eb"/><rect x="1019.77" y="292.3" width="5.89" height="7.6" fill="#e2d7eb"/><rect x="1025.31" y="292.3" width="5.89" height="7.6" fill="#e2d7eb"/><rect x="1030.86" y="292.3" width="5.89" height="7.6" fill="#e2d7eb"/><rect x="775.84" y="300.2" width="5.89" height="7.6" fill="#f7f7f7"/><rect x="781.39" y="300.2" width="5.89" height="7.6" fill="#e6e6e6"/><rect x="786.93" y="300.2" width="5.89" height="7.6" fill="#bfbfbf"/><rect x="792.47" y="300.2" width="5.89" height="7.6" fill="#a6a6a6"/><rect x="798.02" y="300.2" width="5.89" height="7.6" fill="#8c8c8c"/><rect x="803.56" y="300.2" width="5.89" height="7.6" fill="#808080"/><rect x="809.11" y="300.2" width="5.89" height="7.6" fill="#595959"/><rect x="814.65" y="300.2" width="5.89" height="7.6" fill="#4c4c4c"/><rect x="820.19" y="300.2" width="5.89" height="7.6" fill="#262626"/><rect x="825.74" y="300.2" width="5.89" height="7.6" fill="#262626"/><rect x="831.28" y="300.2" width="5.89" height="7.6" fill="#333333"/><rect x="836.83" y="300.2" width="5.89" height="7.6" fill="#404040"/><rect x="842.37" y="300.2" width="5.89" height="7.6" fill="#404040"/><rect x="847.91" y="300.2" width="5.89" height="7.6" fill="#404040"/><rect x="853.46" y="300.2" width="5.89" height="7.6" fill="#404040"/><rect x="859" y="300.2" width="5.89" height="7.6" fill="#4c4c4c"/><rect x="864.54" y="300.2" width="5.89" height="7.6" fill="#666666"/><rect x="870.09" y="300.2" width="5.89" height="7.6" fill="#737373"/><rect x="875.63" y="300.2" width="5.89" height="7.6" fill="#737373"/><rect x="881.17" y="300.2" width="5.89" height="7.6" fill="#808080"/><rect x="886.72" y="300.2" width="5.89" height="7.6" fill="#8c8c8c"/><rect x="892.26" y="300.2" width="5.89" height="7.6" fill="#999999"/><rect x="897.81" y="300.2" width="5.89" height="7.6" fill="#999999"/><rect x="903.35" y="300.2" width="5.89" height="7.6" fill="#999999"/><rect x="908.89" y="300.2" width="5.89" height="7.6" fill="#a6a6a6"/><rect x="914.44" y="300.2" width="5.89" height="7.6" fill="#b2b2b2"/><rect x="919.98" y="300.2" width="5.89" height="7.6" fill="#bfbfbf"/><rect x="925.53" y="300.2" width="5.89" height="7.6" fill="#cccccc"/><rect x="931.07" y="300.2" width="5.89" height="7.6" fill="#d1d1d1"/><rect x="936.61" y="300.2" width="5.89" height="7.6" fill="#d9d9d9"/><rect x="942.16" y="300.2" width="5.89" height="7.6" fill="#e0e0e0"/><rect x="947.7" y="300.2" width="5.89" height="7.6" fill="#e6e6e6"/><rect x="953.24" y="300.2" width="5.89" height="7.6" fill="#ebebeb"/><rect x="958.79" y="300.2" width="5.89" height="7.6" fill="#ededed"/><rect x="964.33" y="300.2" width="5.89" height="7.6" fill="#f0f0f0"/><rect x="969.88" y="300.2" width="5.89" height="7.6" fill="#f2f2f2"/><rect x="975.42" y="300.2" width="5.89" height="7.6" fill="#f5f5f5"/><rect x="980.96" y="300.2" width="5.89" height="7.6" fill="#f5f5f5"/><rect x="986.51" y="300.2" width="5.89" height="7.6" fill="#f7f7f7"/><rect x="992.05" y="300.2" width="5.89" height="7.6" fill="#fafafa"/></g>
<polyline fill="none" stroke="#000000" stroke-width="2.2" stroke-linejoin="miter" stroke-linecap="square" points="770.3,239.7 775.84,239.7 775.84,236.5 781.39,236.5 781.39,225.4 786.93,225.4 786.93,198 792.47,198 792.47,168.1 798.02,168.1 798.02,143.2 803.56,143.2 803.56,124.4 809.11,124.4 809.11,88.1 814.65,88.1 814.65,65 820.19,65 820.19,31.1 825.74,31.1 825.74,27.4 831.28,27.4 831.28,47.4 836.83,47.4 836.83,53.1 842.37,53.1 842.37,50.3 847.91,50.3 847.91,57.1 853.46,57.1 853.46,61.3 859,61.3 859,63.9 864.54,63.9 864.54,78.4 870.09,78.4 870.09,104.4 875.63,104.4 875.63,109.3 881.17,109.3 881.17,125 886.72,125 886.72,128.1 892.26,128.1 892.26,147.6 897.81,147.6 897.81,148.1 903.35,148.1 903.35,153.5 908.89,153.5 908.89,160.6 914.44,160.6 914.44,177.8 919.98,177.8 919.98,181.9 925.53,181.9 925.53,190.9 931.07,190.9 931.07,201.4 936.61,201.4 936.61,206.2 942.16,206.2 942.16,211.5 947.7,211.5 947.7,218.5 953.24,218.5 953.24,222.4 958.79,222.4 958.79,227.2 964.33,227.2 964.33,228.8 969.88,228.8 969.88,231 975.42,231 975.42,232.9 980.96,232.9 980.96,234.2 986.51,234.2 986.51,235.3 992.05,235.3 992.05,236.2 997.59,236.2 997.59,237 1003.14,237 1003.14,237 1008.68,237 1008.68,237.2 1014.23,237.2 1014.23,237.5 1019.77,237.5 1019.77,237.6 1025.31,237.6 1025.31,237.8 1030.86,237.8 1030.86,239.6 1036.4,239.6"/>
<polyline fill="none" stroke="#70379b" stroke-width="2.0" stroke-linejoin="miter" stroke-linecap="square" points="770.3,240.2 775.84,240.2 775.84,239.5 781.39,239.5 781.39,238.7 786.93,238.7 786.93,237.1 792.47,237.1 792.47,235.9 798.02,235.9 798.02,232.6 803.56,232.6 803.56,233.5 809.11,233.5 809.11,224.3 814.65,224.3 814.65,222.4 820.19,222.4 820.19,224 825.74,224 825.74,218.9 831.28,218.9 831.28,217.9 836.83,217.9 836.83,212.1 842.37,212.1 842.37,198 847.91,198 847.91,192.9 853.46,192.9 853.46,189.8 859,189.8 859,184.5 864.54,184.5 864.54,179 870.09,179 870.09,182.1 875.63,182.1 875.63,173.5 881.17,173.5 881.17,172.6 886.72,172.6 886.72,171.4 892.26,171.4 892.26,170.3 897.81,170.3 897.81,167.3 903.35,167.3 903.35,166.1 908.89,166.1 908.89,177.7 914.44,177.7 914.44,186.3 919.98,186.3 919.98,192.6 925.53,192.6 925.53,197.7 931.07,197.7 931.07,202.8 936.61,202.8 936.61,206.2 942.16,206.2 942.16,210.2 947.7,210.2 947.7,220.8 953.24,220.8 953.24,225.9 958.79,225.9 958.79,229 964.33,229 964.33,229 969.88,229 969.88,231.9 975.42,231.9 975.42,231.9 980.96,231.9 980.96,234.8 986.51,234.8 986.51,235.8 992.05,235.8 992.05,236.2 997.59,236.2 997.59,237 1003.14,237 1003.14,237 1008.68,237 1008.68,237 1014.23,237 1014.23,237.9 1019.77,237.9 1019.77,238.3 1025.31,238.3 1025.31,238.8 1030.86,238.8 1030.86,239.3 1036.4,239.3"/>
<polyline fill="none" stroke="#1e7abe" stroke-width="2.0" stroke-linejoin="miter" stroke-linecap="square" points="770.3,240.3 775.84,240.3 775.84,240 781.39,240 781.39,239.8 786.93,239.8 786.93,239.5 792.47,239.5 792.47,239.5 798.02,239.5 798.02,239 803.56,239 803.56,239 809.11,239 809.11,238.2 814.65,238.2 814.65,238.2 820.19,238.2 820.19,238.2 825.74,238.2 825.74,237.1 831.28,237.1 831.28,236.5 836.83,236.5 836.83,235.6 842.37,235.6 842.37,234.6 847.91,234.6 847.91,231.7 853.46,231.7 853.46,231.4 859,231.4 859,230.5 864.54,230.5 864.54,229.2 870.09,229.2 870.09,226.2 875.63,226.2 875.63,224.5 881.17,224.5 881.17,220.7 886.72,220.7 886.72,217.6 892.26,217.6 892.26,215.5 897.81,215.5 897.81,211 903.35,211 903.35,204.5 908.89,204.5 908.89,208.5 914.44,208.5 914.44,213.1 919.98,213.1 919.98,215.7 925.53,215.7 925.53,213.6 931.07,213.6 931.07,217.4 936.61,217.4 936.61,216.5 942.16,216.5 942.16,221.6 947.7,221.6 947.7,226.8 953.24,226.8 953.24,228.5 958.79,228.5 958.79,231 964.33,231 964.33,233.6 969.88,233.6 969.88,234.8 975.42,234.8 975.42,235.3 980.96,235.3 980.96,236.2 986.51,236.2 986.51,236.5 992.05,236.5 992.05,236.8 997.59,236.8 997.59,237 1003.14,237 1003.14,237.3 1008.68,237.3 1008.68,237.6 1014.23,237.6 1014.23,237.9 1019.77,237.9 1019.77,238.5 1025.31,238.5 1025.31,238.7 1030.86,238.7 1030.86,239 1036.4,239"/>
<polyline fill="none" stroke="#1d9641" stroke-width="2.0" stroke-linejoin="miter" stroke-linecap="square" points="770.3,240.5 775.84,240.5 775.84,240.2 781.39,240.2 781.39,240 786.93,240 786.93,239.8 792.47,239.8 792.47,239.7 798.02,239.7 798.02,239.7 803.56,239.7 803.56,239.6 809.11,239.6 809.11,239.5 814.65,239.5 814.65,239.4 820.19,239.4 820.19,239.3 825.74,239.3 825.74,239.2 831.28,239.2 831.28,239.1 836.83,239.1 836.83,239 842.37,239 842.37,239 847.91,239 847.91,238.9 853.46,238.9 853.46,238.8 859,238.8 859,238.8 864.54,238.8 864.54,238.7 870.09,238.7 870.09,238.7 875.63,238.7 875.63,238.6 881.17,238.6 881.17,238.5 886.72,238.5 886.72,238.5 892.26,238.5 892.26,235.9 897.81,235.9 897.81,234.8 903.35,234.8 903.35,233.1 908.89,233.1 908.89,233.6 914.44,233.6 914.44,233.1 919.98,233.1 919.98,231 925.53,231 925.53,230.2 931.07,230.2 931.07,229 936.61,229 936.61,229 942.16,229 942.16,230.7 947.7,230.7 947.7,231.4 953.24,231.4 953.24,232.4 958.79,232.4 958.79,233.6 964.33,233.6 964.33,234.8 969.88,234.8 969.88,235.8 975.42,235.8 975.42,236.5 980.96,236.5 980.96,236.8 986.51,236.8 986.51,237.2 992.05,237.2 992.05,237.5 997.59,237.5 997.59,238.2 1003.14,238.2 1003.14,238.5 1008.68,238.5 1008.68,238.8 1014.23,238.8 1014.23,239.1 1019.77,239.1 1019.77,239.3 1025.31,239.3 1025.31,239.5 1030.86,239.5 1030.86,239.6 1036.4,239.6"/>
<polyline fill="none" stroke="#fbb432" stroke-width="2.0" stroke-linejoin="miter" stroke-linecap="square" points="770.3,240.5 775.84,240.5 775.84,240.5 781.39,240.5 781.39,240.5 786.93,240.5 786.93,240.5 792.47,240.5 792.47,240.5 798.02,240.5 798.02,240.5 803.56,240.5 803.56,240.5 809.11,240.5 809.11,240.5 814.65,240.5 814.65,240.5 820.19,240.5 820.19,240.5 825.74,240.5 825.74,240.5 831.28,240.5 831.28,240.5 836.83,240.5 836.83,240.5 842.37,240.5 842.37,240.5 847.91,240.5 847.91,240.5 853.46,240.5 853.46,240.5 859,240.5 859,240.5 864.54,240.5 864.54,240.5 870.09,240.5 870.09,240.5 875.63,240.5 875.63,240.5 881.17,240.5 881.17,240.2 886.72,240.2 886.72,240 892.26,240 892.26,239.6 897.81,239.6 897.81,239.3 903.35,239.3 903.35,239 908.89,239 908.89,238.6 914.44,238.6 914.44,238.2 919.98,238.2 919.98,238 925.53,238 925.53,237.8 931.07,237.8 931.07,237.8 936.61,237.8 936.61,237.7 942.16,237.7 942.16,237.8 947.7,237.8 947.7,238 953.24,238 953.24,238.2 958.79,238.2 958.79,238.5 964.33,238.5 964.33,238.8 969.88,238.8 969.88,239 975.42,239 975.42,239.3 980.96,239.3 980.96,239.5 986.51,239.5 986.51,239.8 992.05,239.8 992.05,239.8 997.59,239.8 997.59,239.8 1003.14,239.8 1003.14,239.8 1008.68,239.8 1008.68,239.8 1014.23,239.8 1014.23,239.8 1019.77,239.8 1019.77,239.8 1025.31,239.8 1025.31,239.8 1030.86,239.8 1030.86,239.8 1036.4,239.8"/>
<polyline fill="none" stroke="#e82119" stroke-width="2.0" stroke-linejoin="miter" stroke-linecap="square" points="770.3,240.9 775.84,240.9 775.84,240.9 781.39,240.9 781.39,240.9 786.93,240.9 786.93,240.9 792.47,240.9 792.47,240.9 798.02,240.9 798.02,240.9 803.56,240.9 803.56,240.9 809.11,240.9 809.11,240.9 814.65,240.9 814.65,240.9 820.19,240.9 820.19,240.9 825.74,240.9 825.74,240.9 831.28,240.9 831.28,240.9 836.83,240.9 836.83,240.9 842.37,240.9 842.37,240.9 847.91,240.9 847.91,240.9 853.46,240.9 853.46,240.9 859,240.9 859,240.9 864.54,240.9 864.54,240.9 870.09,240.9 870.09,240.9 875.63,240.9 875.63,240.9 881.17,240.9 881.17,240.9 886.72,240.9 886.72,240.9 892.26,240.9 892.26,240.9 897.81,240.9 897.81,240.9 903.35,240.9 903.35,240.9 908.89,240.9 908.89,240.9 914.44,240.9 914.44,240.9 919.98,240.9 919.98,240.9 925.53,240.9 925.53,240.9 931.07,240.9 931.07,240.9 936.61,240.9 936.61,240.9 942.16,240.9 942.16,240.9 947.7,240.9 947.7,240.9 953.24,240.9 953.24,240.9 958.79,240.9 958.79,240.9 964.33,240.9 964.33,240.9 969.88,240.9 969.88,240.9 975.42,240.9 975.42,240.9 980.96,240.9 980.96,240.9 986.51,240.9 986.51,240.9 992.05,240.9 992.05,240.9 997.59,240.9 997.59,240.9 1003.14,240.9 1003.14,240.9 1008.68,240.9 1008.68,240.9 1014.23,240.9 1014.23,240.9 1019.77,240.9 1019.77,240.9 1025.31,240.9 1025.31,240.9 1030.86,240.9 1030.86,240.9 1036.4,240.9"/>
<line x1="770.3" y1="240.5" x2="1036.4" y2="240.5" stroke="#1a1a1a" stroke-width="1"/>
<path d="M757 14.1 V240.7" stroke="#222" stroke-width="1.4" fill="none"/>
<path d="M751 14.1 H757" stroke="#222" stroke-width="1.4"/>
<text x="748" y="18.7" font-size="13" text-anchor="end">0.04</text>
<path d="M751 70.75 H757" stroke="#222" stroke-width="1.4"/>
<text x="748" y="75.35" font-size="13" text-anchor="end">0.03</text>
<path d="M751 127.4 H757" stroke="#222" stroke-width="1.4"/>
<text x="748" y="132" font-size="13" text-anchor="end">0.02</text>
<path d="M751 184.05 H757" stroke="#222" stroke-width="1.4"/>
<text x="748" y="188.65" font-size="13" text-anchor="end">0.01</text>
<path d="M751 240.7 H757" stroke="#222" stroke-width="1.4"/>
<text x="748" y="245.3" font-size="13" text-anchor="end">0.00</text>
<text transform="translate(710.7 133.4) rotate(-90)" font-size="12.9" text-anchor="middle">Scaled frequency</text>
<path d="M770.3 317.4 V311.8 H1036.4 V317.4" stroke="#222" stroke-width="1.5" fill="none"/>
<path d="M814.65 311.8 V317.4" stroke="#222" stroke-width="1.5"/>
<path d="M870.09 311.8 V317.4" stroke="#222" stroke-width="1.5"/>
<path d="M925.53 311.8 V317.4" stroke="#222" stroke-width="1.5"/>
<path d="M980.96 311.8 V317.4" stroke="#222" stroke-width="1.5"/>
<text x="770.3" y="330" font-size="13" text-anchor="middle">10</text>
<text x="814.65" y="330" font-size="13" text-anchor="middle">50</text>
<text x="870.09" y="330" font-size="13" text-anchor="middle">100</text>
<text x="925.53" y="330" font-size="13" text-anchor="middle">150</text>
<text x="980.96" y="330" font-size="13" text-anchor="middle">200</text>
<text x="1036.4" y="330" font-size="13" text-anchor="middle">250</text>
<text x="902.6" y="344.8" font-size="12.8" text-anchor="middle">Poly(A)-tail length (nt)</text>
<text x="1030" y="13.6" font-size="13" font-style="italic" text-anchor="end">Eef2</text>
<text x="1029.8" y="28.7" font-size="13" text-anchor="end">Half-life = 44.7 h</text>
<path d="M249 46.8 H264.7" stroke="#e82119" stroke-width="2"/>
<text x="268" y="51.4" font-size="13">40 min</text>
<path d="M249 59.56 H264.7" stroke="#fbb432" stroke-width="2"/>
<text x="268" y="64.16" font-size="13">1 h</text>
<path d="M249 72.32 H264.7" stroke="#1d9641" stroke-width="2"/>
<text x="268" y="76.92" font-size="13">2 h</text>
<path d="M249 85.08 H264.7" stroke="#1e7abe" stroke-width="2"/>
<text x="268" y="89.68" font-size="13">4 h</text>
<path d="M249 97.84 H264.7" stroke="#70379b" stroke-width="2"/>
<text x="268" y="102.44" font-size="13">8 h</text>
<path d="M249 110.6 H264.7" stroke="#000000" stroke-width="2"/>
<text x="268" y="115.2" font-size="13">Steady state</text>
</svg></body></html>
